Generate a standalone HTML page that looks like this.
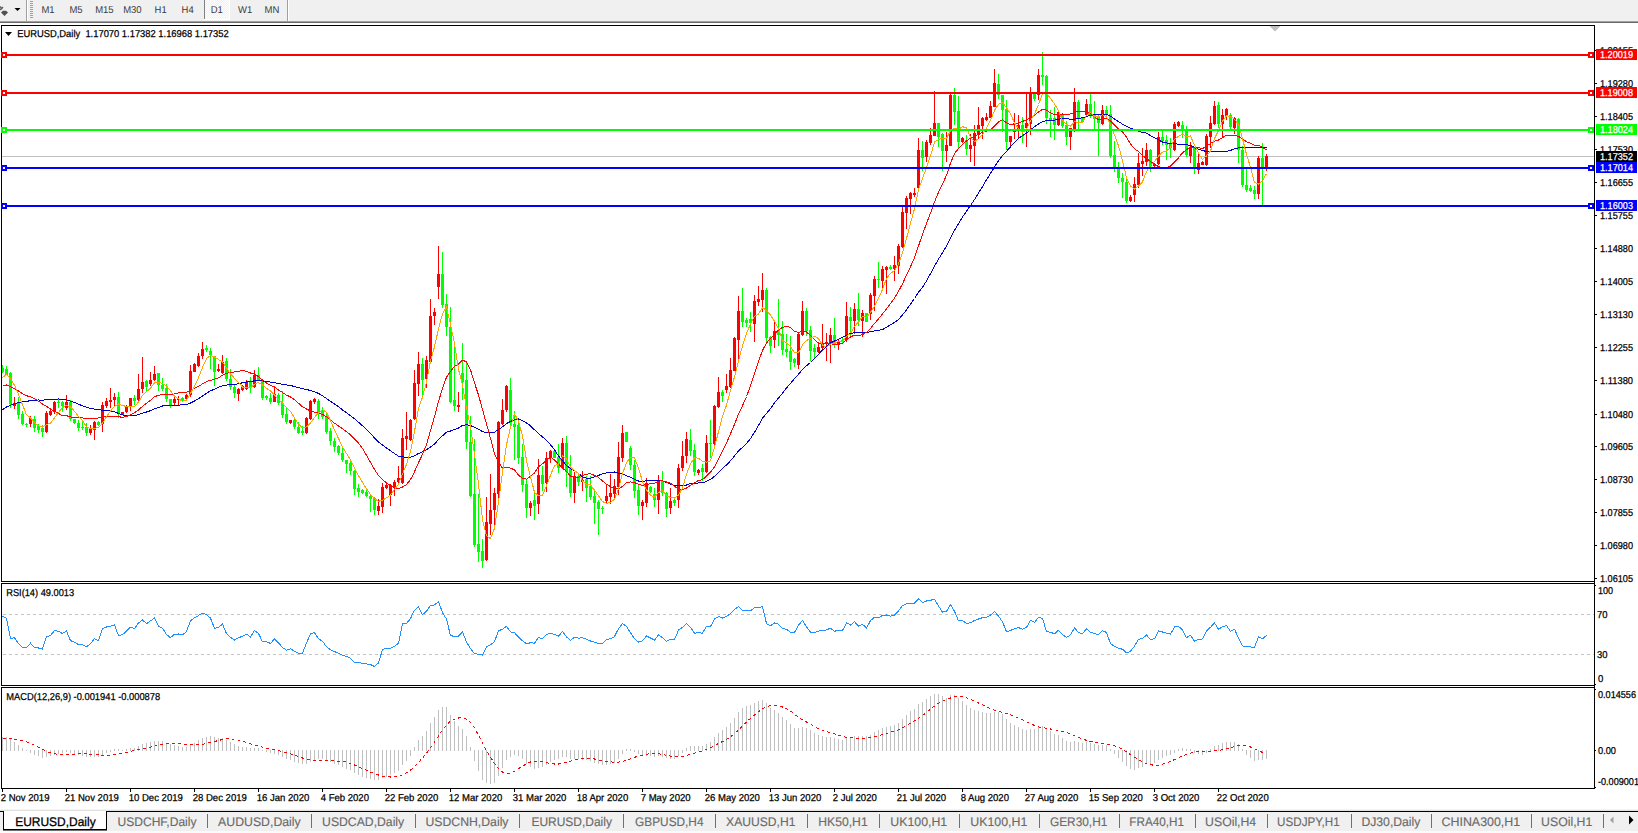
<!DOCTYPE html>
<html><head><meta charset="utf-8"><title>EURUSD,Daily</title>
<style>html,body{margin:0;padding:0;background:#fff;overflow:hidden}svg{display:block}text{white-space:pre}</style></head>
<body>
<svg width="1638" height="833" viewBox="0 0 1638 833" font-family='"Liberation Sans", sans-serif' text-rendering="geometricPrecision">
<rect x="0" y="0" width="1638" height="833" fill="#fff"/>
<g shape-rendering="crispEdges">
<rect x="0" y="0" width="1638" height="21" fill="#f0f0f0"/>
<rect x="0" y="21" width="1638" height="1" fill="#a0a0a0"/>
<rect x="0" y="22" width="1638" height="1" fill="#696969"/>
<rect x="26" y="0" width="1" height="21" fill="#a0a0a0"/>
<rect x="27" y="0" width="1" height="21" fill="#ffffff"/>
<rect x="30" y="1" width="3" height="1" fill="#a0a0a0"/>
<rect x="30" y="3" width="3" height="1" fill="#a0a0a0"/>
<rect x="30" y="5" width="3" height="1" fill="#a0a0a0"/>
<rect x="30" y="7" width="3" height="1" fill="#a0a0a0"/>
<rect x="30" y="9" width="3" height="1" fill="#a0a0a0"/>
<rect x="30" y="11" width="3" height="1" fill="#a0a0a0"/>
<rect x="30" y="13" width="3" height="1" fill="#a0a0a0"/>
<rect x="30" y="15" width="3" height="1" fill="#a0a0a0"/>
<rect x="30" y="17" width="3" height="1" fill="#a0a0a0"/>
<rect x="287" y="0" width="1" height="21" fill="#a0a0a0"/>
<rect x="288" y="0" width="1" height="21" fill="#ffffff"/>
<defs><pattern id="chk" width="2" height="2" patternUnits="userSpaceOnUse"><rect width="2" height="2" fill="#f0f0f0"/><rect width="1" height="1" fill="#fff"/><rect x="1" y="1" width="1" height="1" fill="#fff"/></pattern></defs>
<rect x="205" y="0" width="24" height="19" fill="url(#chk)"/>
<rect x="204" y="0" width="1" height="19" fill="#808080"/>
<rect x="229" y="0" width="1" height="20" fill="#ffffff"/>
<rect x="204" y="19" width="26" height="1" fill="#ffffff"/>
</g>
<path d="M0 6.5 L2.2 9.2 M0 10 L3 7" stroke="#606060" stroke-width="1.4" fill="none"/>
<path d="M3 10.8 L6 10.8 L8 12.5 L4.5 16 L1 12.5 Z" fill="#505050"/>
<path d="M14.5 8 L20.5 8 L17.5 11 Z" fill="#000"/>
<text x="48" y="13" font-size="10" fill="#3a3a3a" text-anchor="middle" textLength="13.2" lengthAdjust="spacingAndGlyphs" stroke="none">M1</text>
<text x="76" y="13" font-size="10" fill="#3a3a3a" text-anchor="middle" textLength="13.2" lengthAdjust="spacingAndGlyphs" stroke="none">M5</text>
<text x="104.4" y="13" font-size="10" fill="#3a3a3a" text-anchor="middle" textLength="18.5" lengthAdjust="spacingAndGlyphs" stroke="none">M15</text>
<text x="132.4" y="13" font-size="10" fill="#3a3a3a" text-anchor="middle" textLength="18.5" lengthAdjust="spacingAndGlyphs" stroke="none">M30</text>
<text x="160.6" y="13" font-size="10" fill="#3a3a3a" text-anchor="middle" textLength="12.1" lengthAdjust="spacingAndGlyphs" stroke="none">H1</text>
<text x="187.6" y="13" font-size="10" fill="#3a3a3a" text-anchor="middle" textLength="12.1" lengthAdjust="spacingAndGlyphs" stroke="none">H4</text>
<text x="216.7" y="13" font-size="10" fill="#3a3a3a" text-anchor="middle" textLength="12.1" lengthAdjust="spacingAndGlyphs" stroke="none">D1</text>
<text x="245.2" y="13" font-size="10" fill="#3a3a3a" text-anchor="middle" textLength="14.2" lengthAdjust="spacingAndGlyphs" stroke="none">W1</text>
<text x="272" y="13" font-size="10" fill="#3a3a3a" text-anchor="middle" textLength="14.8" lengthAdjust="spacingAndGlyphs" stroke="none">MN</text>
<g shape-rendering="crispEdges">
<rect x="1" y="25" width="1594" height="1" fill="#000"/>
<rect x="1" y="581" width="1594" height="1" fill="#000"/>
<rect x="1" y="583" width="1594" height="1" fill="#000"/>
<rect x="1" y="685" width="1594" height="1" fill="#000"/>
<rect x="1" y="687" width="1594" height="1" fill="#000"/>
<rect x="1" y="788" width="1594" height="1" fill="#000"/>
<rect x="1" y="25" width="1" height="557" fill="#000"/>
<rect x="1" y="583" width="1" height="103" fill="#000"/>
<rect x="1" y="687" width="1" height="102" fill="#000"/>
<rect x="1594" y="25" width="1" height="764" fill="#000"/>
</g>
<g shape-rendering="crispEdges">
<rect x="2" y="156" width="1592" height="1" fill="#c0c0c0"/>
<rect x="2" y="365" width="1" height="8" fill="#00ff00"/>
<rect x="1" y="368" width="3" height="4" fill="#00ff00"/>
<rect x="6" y="366" width="1" height="9" fill="#00ff00"/>
<rect x="5" y="369" width="3" height="6" fill="#00ff00"/>
<rect x="10" y="372" width="1" height="36" fill="#00ff00"/>
<rect x="9" y="373" width="3" height="31" fill="#00ff00"/>
<rect x="14" y="397" width="1" height="12" fill="#ff0000"/>
<rect x="13" y="403" width="3" height="3" fill="#ff0000"/>
<rect x="18" y="397" width="1" height="22" fill="#00ff00"/>
<rect x="17" y="403" width="3" height="12" fill="#00ff00"/>
<rect x="22" y="411" width="1" height="14" fill="#00ff00"/>
<rect x="21" y="414" width="3" height="10" fill="#00ff00"/>
<rect x="26" y="423" width="1" height="4" fill="#00ff00"/>
<rect x="25" y="424" width="3" height="1" fill="#00ff00"/>
<rect x="30" y="416" width="1" height="11" fill="#ff0000"/>
<rect x="29" y="418" width="3" height="6" fill="#ff0000"/>
<rect x="34" y="416" width="1" height="16" fill="#00ff00"/>
<rect x="33" y="419" width="3" height="9" fill="#00ff00"/>
<rect x="38" y="424" width="1" height="9" fill="#00ff00"/>
<rect x="37" y="426" width="3" height="4" fill="#00ff00"/>
<rect x="42" y="425" width="1" height="12" fill="#00ff00"/>
<rect x="41" y="428" width="3" height="4" fill="#00ff00"/>
<rect x="46" y="411" width="1" height="22" fill="#ff0000"/>
<rect x="45" y="413" width="3" height="19" fill="#ff0000"/>
<rect x="50" y="410" width="1" height="6" fill="#ff0000"/>
<rect x="49" y="411" width="3" height="4" fill="#ff0000"/>
<rect x="54" y="401" width="1" height="13" fill="#ff0000"/>
<rect x="53" y="402" width="3" height="10" fill="#ff0000"/>
<rect x="58" y="399" width="1" height="9" fill="#00ff00"/>
<rect x="57" y="402" width="3" height="1" fill="#00ff00"/>
<rect x="62" y="401" width="1" height="11" fill="#00ff00"/>
<rect x="61" y="402" width="3" height="4" fill="#00ff00"/>
<rect x="66" y="395" width="1" height="15" fill="#ff0000"/>
<rect x="65" y="402" width="3" height="6" fill="#ff0000"/>
<rect x="70" y="400" width="1" height="21" fill="#00ff00"/>
<rect x="69" y="402" width="3" height="17" fill="#00ff00"/>
<rect x="74" y="419" width="1" height="5" fill="#00ff00"/>
<rect x="73" y="419" width="3" height="4" fill="#00ff00"/>
<rect x="78" y="420" width="1" height="11" fill="#00ff00"/>
<rect x="77" y="423" width="3" height="5" fill="#00ff00"/>
<rect x="82" y="422" width="1" height="8" fill="#00ff00"/>
<rect x="81" y="427" width="3" height="1" fill="#00ff00"/>
<rect x="86" y="423" width="1" height="13" fill="#00ff00"/>
<rect x="85" y="427" width="3" height="6" fill="#00ff00"/>
<rect x="90" y="425" width="1" height="10" fill="#ff0000"/>
<rect x="89" y="428" width="3" height="5" fill="#ff0000"/>
<rect x="94" y="421" width="1" height="19" fill="#ff0000"/>
<rect x="93" y="422" width="3" height="8" fill="#ff0000"/>
<rect x="98" y="421" width="1" height="5" fill="#00ff00"/>
<rect x="97" y="422" width="3" height="3" fill="#00ff00"/>
<rect x="102" y="402" width="1" height="30" fill="#ff0000"/>
<rect x="101" y="405" width="3" height="19" fill="#ff0000"/>
<rect x="106" y="398" width="1" height="10" fill="#ff0000"/>
<rect x="105" y="401" width="3" height="5" fill="#ff0000"/>
<rect x="110" y="388" width="1" height="20" fill="#ff0000"/>
<rect x="109" y="400" width="3" height="2" fill="#ff0000"/>
<rect x="114" y="393" width="1" height="13" fill="#ff0000"/>
<rect x="113" y="397" width="3" height="3" fill="#ff0000"/>
<rect x="118" y="392" width="1" height="26" fill="#00ff00"/>
<rect x="117" y="397" width="3" height="17" fill="#00ff00"/>
<rect x="122" y="412" width="1" height="3" fill="#ff0000"/>
<rect x="121" y="412" width="3" height="3" fill="#ff0000"/>
<rect x="126" y="405" width="1" height="8" fill="#ff0000"/>
<rect x="125" y="406" width="3" height="6" fill="#ff0000"/>
<rect x="130" y="398" width="1" height="13" fill="#ff0000"/>
<rect x="129" y="398" width="3" height="8" fill="#ff0000"/>
<rect x="134" y="395" width="1" height="10" fill="#00ff00"/>
<rect x="133" y="398" width="3" height="3" fill="#00ff00"/>
<rect x="138" y="374" width="1" height="27" fill="#ff0000"/>
<rect x="137" y="389" width="3" height="11" fill="#ff0000"/>
<rect x="142" y="357" width="1" height="36" fill="#ff0000"/>
<rect x="141" y="382" width="3" height="7" fill="#ff0000"/>
<rect x="146" y="380" width="1" height="11" fill="#00ff00"/>
<rect x="145" y="381" width="3" height="6" fill="#00ff00"/>
<rect x="150" y="372" width="1" height="14" fill="#ff0000"/>
<rect x="149" y="380" width="3" height="4" fill="#ff0000"/>
<rect x="154" y="366" width="1" height="15" fill="#ff0000"/>
<rect x="153" y="374" width="3" height="6" fill="#ff0000"/>
<rect x="158" y="373" width="1" height="18" fill="#00ff00"/>
<rect x="157" y="373" width="3" height="12" fill="#00ff00"/>
<rect x="162" y="378" width="1" height="13" fill="#00ff00"/>
<rect x="161" y="385" width="3" height="4" fill="#00ff00"/>
<rect x="166" y="384" width="1" height="18" fill="#00ff00"/>
<rect x="165" y="388" width="3" height="11" fill="#00ff00"/>
<rect x="170" y="399" width="1" height="9" fill="#00ff00"/>
<rect x="169" y="399" width="3" height="7" fill="#00ff00"/>
<rect x="174" y="397" width="1" height="9" fill="#ff0000"/>
<rect x="173" y="399" width="3" height="4" fill="#ff0000"/>
<rect x="178" y="396" width="1" height="10" fill="#ff0000"/>
<rect x="177" y="399" width="3" height="1" fill="#ff0000"/>
<rect x="182" y="397" width="1" height="4" fill="#00ff00"/>
<rect x="181" y="398" width="3" height="2" fill="#00ff00"/>
<rect x="186" y="394" width="1" height="5" fill="#ff0000"/>
<rect x="185" y="395" width="3" height="4" fill="#ff0000"/>
<rect x="190" y="365" width="1" height="32" fill="#ff0000"/>
<rect x="189" y="371" width="3" height="24" fill="#ff0000"/>
<rect x="194" y="363" width="1" height="9" fill="#ff0000"/>
<rect x="193" y="364" width="3" height="8" fill="#ff0000"/>
<rect x="198" y="353" width="1" height="14" fill="#ff0000"/>
<rect x="197" y="356" width="3" height="10" fill="#ff0000"/>
<rect x="202" y="342" width="1" height="17" fill="#ff0000"/>
<rect x="201" y="349" width="3" height="7" fill="#ff0000"/>
<rect x="206" y="345" width="1" height="7" fill="#00ff00"/>
<rect x="205" y="348" width="3" height="2" fill="#00ff00"/>
<rect x="210" y="348" width="1" height="21" fill="#00ff00"/>
<rect x="209" y="351" width="3" height="4" fill="#00ff00"/>
<rect x="214" y="356" width="1" height="30" fill="#00ff00"/>
<rect x="213" y="356" width="3" height="16" fill="#00ff00"/>
<rect x="218" y="364" width="1" height="8" fill="#ff0000"/>
<rect x="217" y="369" width="3" height="2" fill="#ff0000"/>
<rect x="222" y="355" width="1" height="19" fill="#ff0000"/>
<rect x="221" y="362" width="3" height="11" fill="#ff0000"/>
<rect x="226" y="358" width="1" height="23" fill="#00ff00"/>
<rect x="225" y="361" width="3" height="18" fill="#00ff00"/>
<rect x="230" y="369" width="1" height="21" fill="#00ff00"/>
<rect x="229" y="379" width="3" height="8" fill="#00ff00"/>
<rect x="234" y="385" width="1" height="13" fill="#00ff00"/>
<rect x="233" y="387" width="3" height="6" fill="#00ff00"/>
<rect x="238" y="388" width="1" height="13" fill="#ff0000"/>
<rect x="237" y="389" width="3" height="5" fill="#ff0000"/>
<rect x="242" y="385" width="1" height="6" fill="#ff0000"/>
<rect x="241" y="386" width="3" height="4" fill="#ff0000"/>
<rect x="246" y="380" width="1" height="10" fill="#ff0000"/>
<rect x="245" y="382" width="3" height="7" fill="#ff0000"/>
<rect x="250" y="377" width="1" height="16" fill="#00ff00"/>
<rect x="249" y="382" width="3" height="5" fill="#00ff00"/>
<rect x="254" y="370" width="1" height="18" fill="#ff0000"/>
<rect x="253" y="375" width="3" height="12" fill="#ff0000"/>
<rect x="258" y="367" width="1" height="14" fill="#00ff00"/>
<rect x="257" y="375" width="3" height="5" fill="#00ff00"/>
<rect x="262" y="379" width="1" height="21" fill="#00ff00"/>
<rect x="261" y="380" width="3" height="18" fill="#00ff00"/>
<rect x="266" y="395" width="1" height="5" fill="#00ff00"/>
<rect x="265" y="396" width="3" height="2" fill="#00ff00"/>
<rect x="270" y="393" width="1" height="11" fill="#00ff00"/>
<rect x="269" y="398" width="3" height="4" fill="#00ff00"/>
<rect x="274" y="388" width="1" height="14" fill="#ff0000"/>
<rect x="273" y="394" width="3" height="8" fill="#ff0000"/>
<rect x="278" y="393" width="1" height="12" fill="#00ff00"/>
<rect x="277" y="395" width="3" height="8" fill="#00ff00"/>
<rect x="282" y="391" width="1" height="27" fill="#00ff00"/>
<rect x="281" y="403" width="3" height="12" fill="#00ff00"/>
<rect x="286" y="408" width="1" height="16" fill="#00ff00"/>
<rect x="285" y="414" width="3" height="8" fill="#00ff00"/>
<rect x="290" y="420" width="1" height="4" fill="#ff0000"/>
<rect x="289" y="420" width="3" height="3" fill="#ff0000"/>
<rect x="294" y="419" width="1" height="10" fill="#00ff00"/>
<rect x="293" y="420" width="3" height="7" fill="#00ff00"/>
<rect x="298" y="422" width="1" height="12" fill="#00ff00"/>
<rect x="297" y="427" width="3" height="6" fill="#00ff00"/>
<rect x="302" y="426" width="1" height="9" fill="#00ff00"/>
<rect x="301" y="431" width="3" height="2" fill="#00ff00"/>
<rect x="306" y="417" width="1" height="17" fill="#ff0000"/>
<rect x="305" y="418" width="3" height="15" fill="#ff0000"/>
<rect x="310" y="400" width="1" height="20" fill="#ff0000"/>
<rect x="309" y="401" width="3" height="18" fill="#ff0000"/>
<rect x="314" y="398" width="1" height="6" fill="#ff0000"/>
<rect x="313" y="399" width="3" height="3" fill="#ff0000"/>
<rect x="318" y="399" width="1" height="20" fill="#00ff00"/>
<rect x="317" y="401" width="3" height="11" fill="#00ff00"/>
<rect x="322" y="407" width="1" height="12" fill="#00ff00"/>
<rect x="321" y="410" width="3" height="7" fill="#00ff00"/>
<rect x="326" y="414" width="1" height="20" fill="#00ff00"/>
<rect x="325" y="416" width="3" height="16" fill="#00ff00"/>
<rect x="330" y="428" width="1" height="17" fill="#00ff00"/>
<rect x="329" y="431" width="3" height="10" fill="#00ff00"/>
<rect x="334" y="438" width="1" height="14" fill="#00ff00"/>
<rect x="333" y="441" width="3" height="6" fill="#00ff00"/>
<rect x="338" y="445" width="1" height="10" fill="#00ff00"/>
<rect x="337" y="446" width="3" height="7" fill="#00ff00"/>
<rect x="342" y="448" width="1" height="14" fill="#00ff00"/>
<rect x="341" y="453" width="3" height="7" fill="#00ff00"/>
<rect x="346" y="460" width="1" height="13" fill="#00ff00"/>
<rect x="345" y="460" width="3" height="4" fill="#00ff00"/>
<rect x="350" y="460" width="1" height="15" fill="#00ff00"/>
<rect x="349" y="463" width="3" height="8" fill="#00ff00"/>
<rect x="354" y="470" width="1" height="25" fill="#00ff00"/>
<rect x="353" y="471" width="3" height="18" fill="#00ff00"/>
<rect x="358" y="484" width="1" height="13" fill="#00ff00"/>
<rect x="357" y="488" width="3" height="4" fill="#00ff00"/>
<rect x="362" y="489" width="1" height="5" fill="#00ff00"/>
<rect x="361" y="490" width="3" height="3" fill="#00ff00"/>
<rect x="366" y="488" width="1" height="9" fill="#00ff00"/>
<rect x="365" y="492" width="3" height="4" fill="#00ff00"/>
<rect x="370" y="494" width="1" height="18" fill="#00ff00"/>
<rect x="369" y="496" width="3" height="3" fill="#00ff00"/>
<rect x="374" y="497" width="1" height="18" fill="#00ff00"/>
<rect x="373" y="498" width="3" height="12" fill="#00ff00"/>
<rect x="378" y="499" width="1" height="16" fill="#ff0000"/>
<rect x="377" y="506" width="3" height="5" fill="#ff0000"/>
<rect x="382" y="483" width="1" height="30" fill="#ff0000"/>
<rect x="381" y="487" width="3" height="20" fill="#ff0000"/>
<rect x="386" y="483" width="1" height="6" fill="#ff0000"/>
<rect x="385" y="485" width="3" height="3" fill="#ff0000"/>
<rect x="390" y="484" width="1" height="22" fill="#ff0000"/>
<rect x="389" y="485" width="3" height="10" fill="#ff0000"/>
<rect x="394" y="480" width="1" height="16" fill="#ff0000"/>
<rect x="393" y="482" width="3" height="6" fill="#ff0000"/>
<rect x="398" y="466" width="1" height="17" fill="#ff0000"/>
<rect x="397" y="478" width="3" height="4" fill="#ff0000"/>
<rect x="402" y="429" width="1" height="55" fill="#ff0000"/>
<rect x="401" y="438" width="3" height="45" fill="#ff0000"/>
<rect x="406" y="412" width="1" height="38" fill="#ff0000"/>
<rect x="405" y="436" width="3" height="3" fill="#ff0000"/>
<rect x="410" y="419" width="1" height="22" fill="#ff0000"/>
<rect x="409" y="420" width="3" height="20" fill="#ff0000"/>
<rect x="414" y="370" width="1" height="50" fill="#ff0000"/>
<rect x="413" y="383" width="3" height="36" fill="#ff0000"/>
<rect x="418" y="352" width="1" height="44" fill="#ff0000"/>
<rect x="417" y="364" width="3" height="20" fill="#ff0000"/>
<rect x="422" y="358" width="1" height="38" fill="#00ff00"/>
<rect x="421" y="364" width="3" height="16" fill="#00ff00"/>
<rect x="426" y="356" width="1" height="32" fill="#ff0000"/>
<rect x="425" y="360" width="3" height="19" fill="#ff0000"/>
<rect x="430" y="299" width="1" height="63" fill="#ff0000"/>
<rect x="429" y="316" width="3" height="46" fill="#ff0000"/>
<rect x="434" y="308" width="1" height="17" fill="#ff0000"/>
<rect x="433" y="312" width="3" height="4" fill="#ff0000"/>
<rect x="438" y="246" width="1" height="53" fill="#ff0000"/>
<rect x="437" y="274" width="3" height="13" fill="#ff0000"/>
<rect x="442" y="252" width="1" height="56" fill="#00ff00"/>
<rect x="441" y="274" width="3" height="31" fill="#00ff00"/>
<rect x="446" y="294" width="1" height="42" fill="#00ff00"/>
<rect x="445" y="304" width="3" height="23" fill="#00ff00"/>
<rect x="450" y="307" width="1" height="96" fill="#00ff00"/>
<rect x="449" y="327" width="3" height="75" fill="#00ff00"/>
<rect x="454" y="347" width="1" height="64" fill="#00ff00"/>
<rect x="453" y="400" width="3" height="6" fill="#00ff00"/>
<rect x="458" y="392" width="1" height="20" fill="#ff0000"/>
<rect x="457" y="405" width="3" height="2" fill="#ff0000"/>
<rect x="462" y="343" width="1" height="57" fill="#00ff00"/>
<rect x="461" y="373" width="3" height="9" fill="#00ff00"/>
<rect x="466" y="363" width="1" height="86" fill="#00ff00"/>
<rect x="465" y="380" width="3" height="62" fill="#00ff00"/>
<rect x="470" y="416" width="1" height="81" fill="#00ff00"/>
<rect x="469" y="442" width="3" height="54" fill="#00ff00"/>
<rect x="474" y="439" width="1" height="108" fill="#00ff00"/>
<rect x="473" y="494" width="3" height="51" fill="#00ff00"/>
<rect x="478" y="494" width="1" height="68" fill="#00ff00"/>
<rect x="477" y="544" width="3" height="8" fill="#00ff00"/>
<rect x="482" y="539" width="1" height="29" fill="#00ff00"/>
<rect x="481" y="551" width="3" height="10" fill="#00ff00"/>
<rect x="486" y="497" width="1" height="64" fill="#ff0000"/>
<rect x="485" y="522" width="3" height="38" fill="#ff0000"/>
<rect x="490" y="474" width="1" height="61" fill="#ff0000"/>
<rect x="489" y="510" width="3" height="14" fill="#ff0000"/>
<rect x="494" y="488" width="1" height="37" fill="#ff0000"/>
<rect x="493" y="493" width="3" height="17" fill="#ff0000"/>
<rect x="498" y="421" width="1" height="77" fill="#ff0000"/>
<rect x="497" y="422" width="3" height="72" fill="#ff0000"/>
<rect x="502" y="399" width="1" height="26" fill="#ff0000"/>
<rect x="501" y="410" width="3" height="14" fill="#ff0000"/>
<rect x="506" y="385" width="1" height="27" fill="#ff0000"/>
<rect x="505" y="386" width="3" height="24" fill="#ff0000"/>
<rect x="510" y="378" width="1" height="48" fill="#00ff00"/>
<rect x="509" y="390" width="3" height="32" fill="#00ff00"/>
<rect x="514" y="411" width="1" height="49" fill="#00ff00"/>
<rect x="513" y="424" width="3" height="3" fill="#00ff00"/>
<rect x="518" y="422" width="1" height="42" fill="#00ff00"/>
<rect x="517" y="425" width="3" height="33" fill="#00ff00"/>
<rect x="522" y="444" width="1" height="48" fill="#00ff00"/>
<rect x="521" y="457" width="3" height="28" fill="#00ff00"/>
<rect x="526" y="480" width="1" height="38" fill="#00ff00"/>
<rect x="525" y="484" width="3" height="24" fill="#00ff00"/>
<rect x="530" y="501" width="1" height="15" fill="#ff0000"/>
<rect x="529" y="503" width="3" height="5" fill="#ff0000"/>
<rect x="534" y="493" width="1" height="27" fill="#00ff00"/>
<rect x="533" y="500" width="3" height="6" fill="#00ff00"/>
<rect x="538" y="459" width="1" height="55" fill="#ff0000"/>
<rect x="537" y="475" width="3" height="29" fill="#ff0000"/>
<rect x="542" y="466" width="1" height="25" fill="#00ff00"/>
<rect x="541" y="475" width="3" height="9" fill="#00ff00"/>
<rect x="546" y="452" width="1" height="40" fill="#ff0000"/>
<rect x="545" y="458" width="3" height="25" fill="#ff0000"/>
<rect x="550" y="450" width="1" height="13" fill="#ff0000"/>
<rect x="549" y="451" width="3" height="7" fill="#ff0000"/>
<rect x="554" y="450" width="1" height="8" fill="#00ff00"/>
<rect x="553" y="451" width="3" height="7" fill="#00ff00"/>
<rect x="558" y="444" width="1" height="29" fill="#00ff00"/>
<rect x="557" y="457" width="3" height="11" fill="#00ff00"/>
<rect x="562" y="438" width="1" height="31" fill="#ff0000"/>
<rect x="561" y="443" width="3" height="25" fill="#ff0000"/>
<rect x="566" y="436" width="1" height="51" fill="#00ff00"/>
<rect x="565" y="443" width="3" height="29" fill="#00ff00"/>
<rect x="570" y="455" width="1" height="42" fill="#00ff00"/>
<rect x="569" y="468" width="3" height="25" fill="#00ff00"/>
<rect x="574" y="472" width="1" height="31" fill="#ff0000"/>
<rect x="573" y="476" width="3" height="17" fill="#ff0000"/>
<rect x="578" y="475" width="1" height="11" fill="#00ff00"/>
<rect x="577" y="476" width="3" height="6" fill="#00ff00"/>
<rect x="582" y="471" width="1" height="20" fill="#ff0000"/>
<rect x="581" y="480" width="3" height="2" fill="#ff0000"/>
<rect x="586" y="476" width="1" height="26" fill="#00ff00"/>
<rect x="585" y="479" width="3" height="9" fill="#00ff00"/>
<rect x="590" y="476" width="1" height="24" fill="#00ff00"/>
<rect x="589" y="486" width="3" height="11" fill="#00ff00"/>
<rect x="594" y="491" width="1" height="33" fill="#00ff00"/>
<rect x="593" y="496" width="3" height="7" fill="#00ff00"/>
<rect x="598" y="500" width="1" height="35" fill="#00ff00"/>
<rect x="597" y="502" width="3" height="7" fill="#00ff00"/>
<rect x="602" y="506" width="1" height="8" fill="#00ff00"/>
<rect x="601" y="508" width="3" height="1" fill="#00ff00"/>
<rect x="606" y="484" width="1" height="20" fill="#ff0000"/>
<rect x="605" y="496" width="3" height="5" fill="#ff0000"/>
<rect x="610" y="474" width="1" height="30" fill="#ff0000"/>
<rect x="609" y="493" width="3" height="4" fill="#ff0000"/>
<rect x="614" y="479" width="1" height="21" fill="#ff0000"/>
<rect x="613" y="486" width="3" height="8" fill="#ff0000"/>
<rect x="618" y="442" width="1" height="53" fill="#ff0000"/>
<rect x="617" y="457" width="3" height="30" fill="#ff0000"/>
<rect x="622" y="425" width="1" height="37" fill="#ff0000"/>
<rect x="621" y="433" width="3" height="25" fill="#ff0000"/>
<rect x="626" y="432" width="1" height="10" fill="#00ff00"/>
<rect x="625" y="432" width="3" height="10" fill="#00ff00"/>
<rect x="630" y="446" width="1" height="24" fill="#00ff00"/>
<rect x="629" y="448" width="3" height="17" fill="#00ff00"/>
<rect x="634" y="460" width="1" height="38" fill="#00ff00"/>
<rect x="633" y="465" width="3" height="26" fill="#00ff00"/>
<rect x="638" y="485" width="1" height="30" fill="#00ff00"/>
<rect x="637" y="490" width="3" height="16" fill="#00ff00"/>
<rect x="642" y="500" width="1" height="20" fill="#ff0000"/>
<rect x="641" y="502" width="3" height="4" fill="#ff0000"/>
<rect x="646" y="478" width="1" height="29" fill="#ff0000"/>
<rect x="645" y="483" width="3" height="20" fill="#ff0000"/>
<rect x="650" y="486" width="1" height="7" fill="#00ff00"/>
<rect x="649" y="487" width="3" height="5" fill="#00ff00"/>
<rect x="654" y="488" width="1" height="19" fill="#00ff00"/>
<rect x="653" y="494" width="3" height="6" fill="#00ff00"/>
<rect x="658" y="475" width="1" height="39" fill="#ff0000"/>
<rect x="657" y="482" width="3" height="18" fill="#ff0000"/>
<rect x="662" y="471" width="1" height="25" fill="#00ff00"/>
<rect x="661" y="481" width="3" height="12" fill="#00ff00"/>
<rect x="666" y="492" width="1" height="25" fill="#00ff00"/>
<rect x="665" y="493" width="3" height="16" fill="#00ff00"/>
<rect x="670" y="488" width="1" height="26" fill="#ff0000"/>
<rect x="669" y="501" width="3" height="7" fill="#ff0000"/>
<rect x="674" y="499" width="1" height="7" fill="#00ff00"/>
<rect x="673" y="500" width="3" height="3" fill="#00ff00"/>
<rect x="678" y="464" width="1" height="44" fill="#ff0000"/>
<rect x="677" y="468" width="3" height="32" fill="#ff0000"/>
<rect x="682" y="441" width="1" height="30" fill="#ff0000"/>
<rect x="681" y="456" width="3" height="12" fill="#ff0000"/>
<rect x="686" y="432" width="1" height="31" fill="#ff0000"/>
<rect x="685" y="439" width="3" height="17" fill="#ff0000"/>
<rect x="690" y="429" width="1" height="27" fill="#00ff00"/>
<rect x="689" y="440" width="3" height="11" fill="#00ff00"/>
<rect x="694" y="444" width="1" height="32" fill="#00ff00"/>
<rect x="693" y="450" width="3" height="22" fill="#00ff00"/>
<rect x="698" y="469" width="1" height="6" fill="#ff0000"/>
<rect x="697" y="470" width="3" height="3" fill="#ff0000"/>
<rect x="702" y="464" width="1" height="17" fill="#00ff00"/>
<rect x="701" y="468" width="3" height="4" fill="#00ff00"/>
<rect x="706" y="435" width="1" height="38" fill="#ff0000"/>
<rect x="705" y="443" width="3" height="29" fill="#ff0000"/>
<rect x="710" y="420" width="1" height="38" fill="#00ff00"/>
<rect x="709" y="443" width="3" height="1" fill="#00ff00"/>
<rect x="714" y="405" width="1" height="40" fill="#ff0000"/>
<rect x="713" y="406" width="3" height="38" fill="#ff0000"/>
<rect x="718" y="377" width="1" height="31" fill="#ff0000"/>
<rect x="717" y="392" width="3" height="15" fill="#ff0000"/>
<rect x="722" y="390" width="1" height="12" fill="#00ff00"/>
<rect x="721" y="392" width="3" height="4" fill="#00ff00"/>
<rect x="726" y="374" width="1" height="19" fill="#ff0000"/>
<rect x="725" y="386" width="3" height="4" fill="#ff0000"/>
<rect x="730" y="358" width="1" height="30" fill="#ff0000"/>
<rect x="729" y="370" width="3" height="17" fill="#ff0000"/>
<rect x="734" y="337" width="1" height="34" fill="#ff0000"/>
<rect x="733" y="338" width="3" height="33" fill="#ff0000"/>
<rect x="738" y="296" width="1" height="63" fill="#ff0000"/>
<rect x="737" y="311" width="3" height="29" fill="#ff0000"/>
<rect x="742" y="288" width="1" height="39" fill="#00ff00"/>
<rect x="741" y="311" width="3" height="11" fill="#00ff00"/>
<rect x="746" y="318" width="1" height="9" fill="#00ff00"/>
<rect x="745" y="320" width="3" height="3" fill="#00ff00"/>
<rect x="750" y="312" width="1" height="20" fill="#00ff00"/>
<rect x="749" y="319" width="3" height="4" fill="#00ff00"/>
<rect x="754" y="295" width="1" height="47" fill="#ff0000"/>
<rect x="753" y="301" width="3" height="23" fill="#ff0000"/>
<rect x="758" y="286" width="1" height="20" fill="#ff0000"/>
<rect x="757" y="299" width="3" height="3" fill="#ff0000"/>
<rect x="762" y="273" width="1" height="39" fill="#ff0000"/>
<rect x="761" y="290" width="3" height="10" fill="#ff0000"/>
<rect x="766" y="288" width="1" height="55" fill="#00ff00"/>
<rect x="765" y="290" width="3" height="48" fill="#00ff00"/>
<rect x="770" y="336" width="1" height="17" fill="#00ff00"/>
<rect x="769" y="337" width="3" height="9" fill="#00ff00"/>
<rect x="774" y="322" width="1" height="26" fill="#ff0000"/>
<rect x="773" y="331" width="3" height="9" fill="#ff0000"/>
<rect x="778" y="299" width="1" height="47" fill="#00ff00"/>
<rect x="777" y="331" width="3" height="4" fill="#00ff00"/>
<rect x="782" y="321" width="1" height="34" fill="#00ff00"/>
<rect x="781" y="334" width="3" height="16" fill="#00ff00"/>
<rect x="786" y="334" width="1" height="23" fill="#00ff00"/>
<rect x="785" y="349" width="3" height="3" fill="#00ff00"/>
<rect x="790" y="336" width="1" height="34" fill="#00ff00"/>
<rect x="789" y="351" width="3" height="11" fill="#00ff00"/>
<rect x="794" y="358" width="1" height="9" fill="#00ff00"/>
<rect x="793" y="359" width="3" height="4" fill="#00ff00"/>
<rect x="798" y="333" width="1" height="36" fill="#ff0000"/>
<rect x="797" y="334" width="3" height="31" fill="#ff0000"/>
<rect x="802" y="301" width="1" height="35" fill="#ff0000"/>
<rect x="801" y="311" width="3" height="24" fill="#ff0000"/>
<rect x="806" y="308" width="1" height="28" fill="#00ff00"/>
<rect x="805" y="311" width="3" height="20" fill="#00ff00"/>
<rect x="810" y="326" width="1" height="35" fill="#00ff00"/>
<rect x="809" y="330" width="3" height="21" fill="#00ff00"/>
<rect x="814" y="344" width="1" height="14" fill="#00ff00"/>
<rect x="813" y="348" width="3" height="4" fill="#00ff00"/>
<rect x="818" y="342" width="1" height="11" fill="#ff0000"/>
<rect x="817" y="347" width="3" height="5" fill="#ff0000"/>
<rect x="822" y="324" width="1" height="25" fill="#ff0000"/>
<rect x="821" y="343" width="3" height="5" fill="#ff0000"/>
<rect x="826" y="333" width="1" height="28" fill="#ff0000"/>
<rect x="825" y="342" width="3" height="2" fill="#ff0000"/>
<rect x="830" y="328" width="1" height="35" fill="#ff0000"/>
<rect x="829" y="335" width="3" height="9" fill="#ff0000"/>
<rect x="834" y="318" width="1" height="30" fill="#00ff00"/>
<rect x="833" y="335" width="3" height="9" fill="#00ff00"/>
<rect x="838" y="340" width="1" height="10" fill="#ff0000"/>
<rect x="837" y="342" width="3" height="3" fill="#ff0000"/>
<rect x="842" y="338" width="1" height="6" fill="#00ff00"/>
<rect x="841" y="340" width="3" height="2" fill="#00ff00"/>
<rect x="846" y="302" width="1" height="40" fill="#ff0000"/>
<rect x="845" y="316" width="3" height="24" fill="#ff0000"/>
<rect x="850" y="307" width="1" height="29" fill="#00ff00"/>
<rect x="849" y="317" width="3" height="4" fill="#00ff00"/>
<rect x="854" y="303" width="1" height="31" fill="#ff0000"/>
<rect x="853" y="309" width="3" height="12" fill="#ff0000"/>
<rect x="858" y="293" width="1" height="33" fill="#00ff00"/>
<rect x="857" y="309" width="3" height="11" fill="#00ff00"/>
<rect x="862" y="310" width="1" height="27" fill="#ff0000"/>
<rect x="861" y="313" width="3" height="8" fill="#ff0000"/>
<rect x="866" y="313" width="1" height="9" fill="#00ff00"/>
<rect x="865" y="313" width="3" height="9" fill="#00ff00"/>
<rect x="870" y="293" width="1" height="27" fill="#ff0000"/>
<rect x="869" y="295" width="3" height="19" fill="#ff0000"/>
<rect x="874" y="276" width="1" height="35" fill="#ff0000"/>
<rect x="873" y="279" width="3" height="17" fill="#ff0000"/>
<rect x="878" y="262" width="1" height="26" fill="#00ff00"/>
<rect x="877" y="279" width="3" height="1" fill="#00ff00"/>
<rect x="882" y="266" width="1" height="24" fill="#ff0000"/>
<rect x="881" y="269" width="3" height="12" fill="#ff0000"/>
<rect x="886" y="266" width="1" height="28" fill="#ff0000"/>
<rect x="885" y="267" width="3" height="3" fill="#ff0000"/>
<rect x="890" y="265" width="1" height="5" fill="#00ff00"/>
<rect x="889" y="267" width="3" height="2" fill="#00ff00"/>
<rect x="894" y="256" width="1" height="25" fill="#ff0000"/>
<rect x="893" y="265" width="3" height="4" fill="#ff0000"/>
<rect x="898" y="244" width="1" height="30" fill="#ff0000"/>
<rect x="897" y="246" width="3" height="20" fill="#ff0000"/>
<rect x="902" y="207" width="1" height="41" fill="#ff0000"/>
<rect x="901" y="212" width="3" height="35" fill="#ff0000"/>
<rect x="906" y="196" width="1" height="33" fill="#ff0000"/>
<rect x="905" y="198" width="3" height="15" fill="#ff0000"/>
<rect x="910" y="192" width="1" height="22" fill="#ff0000"/>
<rect x="909" y="193" width="3" height="6" fill="#ff0000"/>
<rect x="914" y="188" width="1" height="9" fill="#ff0000"/>
<rect x="913" y="193" width="3" height="2" fill="#ff0000"/>
<rect x="918" y="138" width="1" height="50" fill="#ff0000"/>
<rect x="917" y="150" width="3" height="38" fill="#ff0000"/>
<rect x="922" y="141" width="1" height="30" fill="#00ff00"/>
<rect x="921" y="150" width="3" height="8" fill="#00ff00"/>
<rect x="926" y="140" width="1" height="22" fill="#ff0000"/>
<rect x="925" y="142" width="3" height="15" fill="#ff0000"/>
<rect x="930" y="128" width="1" height="17" fill="#ff0000"/>
<rect x="929" y="135" width="3" height="8" fill="#ff0000"/>
<rect x="934" y="91" width="1" height="45" fill="#ff0000"/>
<rect x="933" y="123" width="3" height="13" fill="#ff0000"/>
<rect x="938" y="123" width="1" height="24" fill="#00ff00"/>
<rect x="937" y="123" width="3" height="14" fill="#00ff00"/>
<rect x="942" y="133" width="1" height="38" fill="#00ff00"/>
<rect x="941" y="134" width="3" height="17" fill="#00ff00"/>
<rect x="946" y="132" width="1" height="30" fill="#ff0000"/>
<rect x="945" y="145" width="3" height="6" fill="#ff0000"/>
<rect x="950" y="94" width="1" height="52" fill="#ff0000"/>
<rect x="949" y="95" width="3" height="51" fill="#ff0000"/>
<rect x="954" y="88" width="1" height="37" fill="#00ff00"/>
<rect x="953" y="95" width="3" height="17" fill="#00ff00"/>
<rect x="958" y="96" width="1" height="52" fill="#00ff00"/>
<rect x="957" y="111" width="3" height="31" fill="#00ff00"/>
<rect x="962" y="137" width="1" height="6" fill="#ff0000"/>
<rect x="961" y="138" width="3" height="4" fill="#ff0000"/>
<rect x="966" y="135" width="1" height="20" fill="#00ff00"/>
<rect x="965" y="140" width="3" height="9" fill="#00ff00"/>
<rect x="970" y="134" width="1" height="28" fill="#ff0000"/>
<rect x="969" y="145" width="3" height="4" fill="#ff0000"/>
<rect x="974" y="125" width="1" height="41" fill="#ff0000"/>
<rect x="973" y="133" width="3" height="13" fill="#ff0000"/>
<rect x="978" y="107" width="1" height="32" fill="#ff0000"/>
<rect x="977" y="125" width="3" height="10" fill="#ff0000"/>
<rect x="982" y="117" width="1" height="22" fill="#ff0000"/>
<rect x="981" y="118" width="3" height="8" fill="#ff0000"/>
<rect x="986" y="113" width="1" height="8" fill="#ff0000"/>
<rect x="985" y="117" width="3" height="3" fill="#ff0000"/>
<rect x="990" y="101" width="1" height="17" fill="#ff0000"/>
<rect x="989" y="106" width="3" height="12" fill="#ff0000"/>
<rect x="994" y="69" width="1" height="38" fill="#ff0000"/>
<rect x="993" y="83" width="3" height="24" fill="#ff0000"/>
<rect x="998" y="74" width="1" height="25" fill="#00ff00"/>
<rect x="997" y="84" width="3" height="11" fill="#00ff00"/>
<rect x="1002" y="95" width="1" height="37" fill="#00ff00"/>
<rect x="1001" y="95" width="3" height="15" fill="#00ff00"/>
<rect x="1006" y="100" width="1" height="50" fill="#00ff00"/>
<rect x="1005" y="109" width="3" height="33" fill="#00ff00"/>
<rect x="1010" y="136" width="1" height="10" fill="#ff0000"/>
<rect x="1009" y="136" width="3" height="6" fill="#ff0000"/>
<rect x="1014" y="113" width="1" height="26" fill="#ff0000"/>
<rect x="1013" y="130" width="3" height="2" fill="#ff0000"/>
<rect x="1018" y="115" width="1" height="24" fill="#ff0000"/>
<rect x="1017" y="125" width="3" height="5" fill="#ff0000"/>
<rect x="1022" y="117" width="1" height="26" fill="#00ff00"/>
<rect x="1021" y="125" width="3" height="4" fill="#00ff00"/>
<rect x="1026" y="93" width="1" height="54" fill="#ff0000"/>
<rect x="1025" y="123" width="3" height="5" fill="#ff0000"/>
<rect x="1030" y="87" width="1" height="48" fill="#ff0000"/>
<rect x="1029" y="93" width="3" height="31" fill="#ff0000"/>
<rect x="1034" y="93" width="1" height="8" fill="#00ff00"/>
<rect x="1033" y="94" width="3" height="5" fill="#00ff00"/>
<rect x="1038" y="69" width="1" height="31" fill="#ff0000"/>
<rect x="1037" y="75" width="3" height="20" fill="#ff0000"/>
<rect x="1042" y="52" width="1" height="33" fill="#00ff00"/>
<rect x="1041" y="75" width="3" height="2" fill="#00ff00"/>
<rect x="1046" y="75" width="1" height="49" fill="#00ff00"/>
<rect x="1045" y="76" width="3" height="42" fill="#00ff00"/>
<rect x="1050" y="110" width="1" height="27" fill="#00ff00"/>
<rect x="1049" y="118" width="3" height="2" fill="#00ff00"/>
<rect x="1054" y="107" width="1" height="33" fill="#00ff00"/>
<rect x="1053" y="118" width="3" height="7" fill="#00ff00"/>
<rect x="1058" y="111" width="1" height="15" fill="#ff0000"/>
<rect x="1057" y="112" width="3" height="13" fill="#ff0000"/>
<rect x="1062" y="114" width="1" height="14" fill="#00ff00"/>
<rect x="1061" y="115" width="3" height="11" fill="#00ff00"/>
<rect x="1066" y="121" width="1" height="24" fill="#00ff00"/>
<rect x="1065" y="125" width="3" height="12" fill="#00ff00"/>
<rect x="1070" y="128" width="1" height="22" fill="#ff0000"/>
<rect x="1069" y="128" width="3" height="9" fill="#ff0000"/>
<rect x="1074" y="88" width="1" height="44" fill="#ff0000"/>
<rect x="1073" y="102" width="3" height="27" fill="#ff0000"/>
<rect x="1078" y="100" width="1" height="29" fill="#00ff00"/>
<rect x="1077" y="102" width="3" height="16" fill="#00ff00"/>
<rect x="1082" y="117" width="1" height="6" fill="#00ff00"/>
<rect x="1081" y="118" width="3" height="4" fill="#00ff00"/>
<rect x="1086" y="99" width="1" height="18" fill="#ff0000"/>
<rect x="1085" y="104" width="3" height="11" fill="#ff0000"/>
<rect x="1090" y="94" width="1" height="24" fill="#00ff00"/>
<rect x="1089" y="104" width="3" height="11" fill="#00ff00"/>
<rect x="1094" y="101" width="1" height="29" fill="#00ff00"/>
<rect x="1093" y="114" width="3" height="5" fill="#00ff00"/>
<rect x="1098" y="115" width="1" height="41" fill="#00ff00"/>
<rect x="1097" y="116" width="3" height="7" fill="#00ff00"/>
<rect x="1102" y="105" width="1" height="20" fill="#ff0000"/>
<rect x="1101" y="110" width="3" height="14" fill="#ff0000"/>
<rect x="1106" y="106" width="1" height="12" fill="#00ff00"/>
<rect x="1105" y="110" width="3" height="5" fill="#00ff00"/>
<rect x="1110" y="105" width="1" height="53" fill="#00ff00"/>
<rect x="1109" y="114" width="3" height="42" fill="#00ff00"/>
<rect x="1114" y="141" width="1" height="31" fill="#00ff00"/>
<rect x="1113" y="155" width="3" height="13" fill="#00ff00"/>
<rect x="1118" y="162" width="1" height="21" fill="#00ff00"/>
<rect x="1117" y="168" width="3" height="10" fill="#00ff00"/>
<rect x="1122" y="173" width="1" height="25" fill="#00ff00"/>
<rect x="1121" y="178" width="3" height="4" fill="#00ff00"/>
<rect x="1126" y="178" width="1" height="25" fill="#00ff00"/>
<rect x="1125" y="182" width="3" height="19" fill="#00ff00"/>
<rect x="1130" y="195" width="1" height="7" fill="#ff0000"/>
<rect x="1129" y="197" width="3" height="4" fill="#ff0000"/>
<rect x="1134" y="177" width="1" height="25" fill="#ff0000"/>
<rect x="1133" y="184" width="3" height="11" fill="#ff0000"/>
<rect x="1138" y="153" width="1" height="35" fill="#ff0000"/>
<rect x="1137" y="163" width="3" height="22" fill="#ff0000"/>
<rect x="1142" y="148" width="1" height="28" fill="#ff0000"/>
<rect x="1141" y="161" width="3" height="3" fill="#ff0000"/>
<rect x="1146" y="143" width="1" height="23" fill="#ff0000"/>
<rect x="1145" y="150" width="3" height="12" fill="#ff0000"/>
<rect x="1150" y="149" width="1" height="23" fill="#00ff00"/>
<rect x="1149" y="150" width="3" height="16" fill="#00ff00"/>
<rect x="1154" y="163" width="1" height="4" fill="#ff0000"/>
<rect x="1153" y="164" width="3" height="2" fill="#ff0000"/>
<rect x="1158" y="132" width="1" height="33" fill="#ff0000"/>
<rect x="1157" y="137" width="3" height="27" fill="#ff0000"/>
<rect x="1162" y="131" width="1" height="14" fill="#00ff00"/>
<rect x="1161" y="137" width="3" height="4" fill="#00ff00"/>
<rect x="1166" y="135" width="1" height="25" fill="#00ff00"/>
<rect x="1165" y="140" width="3" height="5" fill="#00ff00"/>
<rect x="1170" y="138" width="1" height="20" fill="#00ff00"/>
<rect x="1169" y="144" width="3" height="4" fill="#00ff00"/>
<rect x="1174" y="122" width="1" height="29" fill="#ff0000"/>
<rect x="1173" y="124" width="3" height="26" fill="#ff0000"/>
<rect x="1178" y="121" width="1" height="6" fill="#ff0000"/>
<rect x="1177" y="122" width="3" height="4" fill="#ff0000"/>
<rect x="1182" y="121" width="1" height="17" fill="#00ff00"/>
<rect x="1181" y="125" width="3" height="5" fill="#00ff00"/>
<rect x="1186" y="126" width="1" height="31" fill="#00ff00"/>
<rect x="1185" y="130" width="3" height="25" fill="#00ff00"/>
<rect x="1190" y="142" width="1" height="21" fill="#ff0000"/>
<rect x="1189" y="147" width="3" height="9" fill="#ff0000"/>
<rect x="1194" y="147" width="1" height="27" fill="#00ff00"/>
<rect x="1193" y="148" width="3" height="21" fill="#00ff00"/>
<rect x="1198" y="154" width="1" height="20" fill="#ff0000"/>
<rect x="1197" y="163" width="3" height="7" fill="#ff0000"/>
<rect x="1202" y="161" width="1" height="4" fill="#ff0000"/>
<rect x="1201" y="162" width="3" height="3" fill="#ff0000"/>
<rect x="1206" y="134" width="1" height="32" fill="#ff0000"/>
<rect x="1205" y="136" width="3" height="29" fill="#ff0000"/>
<rect x="1210" y="116" width="1" height="32" fill="#ff0000"/>
<rect x="1209" y="123" width="3" height="14" fill="#ff0000"/>
<rect x="1214" y="101" width="1" height="24" fill="#ff0000"/>
<rect x="1213" y="106" width="3" height="18" fill="#ff0000"/>
<rect x="1218" y="102" width="1" height="26" fill="#00ff00"/>
<rect x="1217" y="105" width="3" height="19" fill="#00ff00"/>
<rect x="1222" y="109" width="1" height="28" fill="#ff0000"/>
<rect x="1221" y="115" width="3" height="9" fill="#ff0000"/>
<rect x="1226" y="108" width="1" height="12" fill="#ff0000"/>
<rect x="1225" y="109" width="3" height="7" fill="#ff0000"/>
<rect x="1230" y="113" width="1" height="16" fill="#00ff00"/>
<rect x="1229" y="115" width="3" height="12" fill="#00ff00"/>
<rect x="1234" y="117" width="1" height="17" fill="#ff0000"/>
<rect x="1233" y="118" width="3" height="10" fill="#ff0000"/>
<rect x="1238" y="118" width="1" height="45" fill="#00ff00"/>
<rect x="1237" y="119" width="3" height="31" fill="#00ff00"/>
<rect x="1242" y="146" width="1" height="41" fill="#00ff00"/>
<rect x="1241" y="150" width="3" height="35" fill="#00ff00"/>
<rect x="1246" y="168" width="1" height="24" fill="#00ff00"/>
<rect x="1245" y="185" width="3" height="5" fill="#00ff00"/>
<rect x="1250" y="185" width="1" height="7" fill="#00ff00"/>
<rect x="1249" y="188" width="3" height="3" fill="#00ff00"/>
<rect x="1254" y="186" width="1" height="13" fill="#00ff00"/>
<rect x="1253" y="190" width="3" height="4" fill="#00ff00"/>
<rect x="1258" y="156" width="1" height="43" fill="#ff0000"/>
<rect x="1257" y="158" width="3" height="36" fill="#ff0000"/>
<rect x="1262" y="143" width="1" height="62" fill="#00ff00"/>
<rect x="1261" y="158" width="3" height="10" fill="#00ff00"/>
<rect x="1266" y="154" width="1" height="17" fill="#ff0000"/>
<rect x="1265" y="156" width="3" height="11" fill="#ff0000"/>
</g>
<polyline points="2.5,409.6 6.5,407.0 10.5,405.3 14.5,403.7 18.5,402.7 22.5,402.0 26.5,401.4 30.5,400.6 34.5,400.2 38.5,400.0 42.5,400.1 46.5,399.9 50.5,399.5 54.5,399.1 58.5,399.0 62.5,399.3 66.5,399.7 70.5,401.1 74.5,402.5 78.5,404.2 82.5,405.8 86.5,407.3 90.5,408.4 94.5,409.1 98.5,409.8 102.5,410.1 106.5,410.5 110.5,411.1 114.5,411.9 118.5,413.4 122.5,414.8 126.5,415.8 130.5,415.6 134.5,415.6 138.5,414.7 142.5,413.2 146.5,412.0 150.5,410.7 154.5,408.9 158.5,407.4 162.5,406.0 166.5,405.5 170.5,405.3 174.5,405.2 178.5,405.1 182.5,404.9 186.5,404.6 190.5,403.0 194.5,401.1 198.5,398.7 202.5,396.0 206.5,393.3 210.5,390.8 214.5,389.2 218.5,387.3 222.5,385.9 226.5,385.1 230.5,384.7 234.5,384.5 238.5,383.7 242.5,382.8 246.5,382.0 250.5,381.6 254.5,380.8 258.5,380.5 262.5,381.0 266.5,381.4 270.5,382.1 274.5,382.8 278.5,383.4 282.5,384.3 286.5,385.0 290.5,385.5 294.5,386.5 298.5,387.6 302.5,388.7 306.5,389.5 310.5,390.5 314.5,391.6 318.5,393.5 322.5,395.8 326.5,398.5 330.5,401.3 334.5,403.9 338.5,406.6 342.5,409.9 346.5,412.8 350.5,415.6 354.5,418.8 358.5,422.2 362.5,425.8 366.5,429.6 370.5,433.3 374.5,437.9 378.5,442.0 382.5,445.0 386.5,447.9 390.5,450.7 394.5,453.6 398.5,456.1 402.5,456.9 406.5,457.3 410.5,457.3 414.5,455.8 418.5,453.5 422.5,451.8 426.5,449.8 430.5,447.0 434.5,444.1 438.5,439.5 442.5,435.8 446.5,432.3 450.5,431.0 454.5,429.6 458.5,428.0 462.5,425.4 466.5,424.7 470.5,425.5 474.5,427.3 478.5,429.3 482.5,431.6 486.5,432.5 490.5,432.8 494.5,432.3 498.5,429.5 502.5,426.9 506.5,423.6 510.5,421.5 514.5,419.7 518.5,419.0 522.5,420.6 526.5,423.0 530.5,425.8 534.5,429.8 538.5,433.6 542.5,437.0 546.5,440.3 550.5,444.8 554.5,449.6 558.5,456.1 562.5,460.7 566.5,465.5 570.5,468.5 574.5,470.9 578.5,473.4 582.5,476.7 586.5,478.2 590.5,478.3 594.5,476.8 598.5,475.4 602.5,473.7 606.5,472.8 610.5,472.3 614.5,472.0 618.5,473.2 622.5,473.9 626.5,475.8 630.5,477.3 634.5,479.4 638.5,481.0 642.5,481.6 646.5,480.7 650.5,480.4 654.5,480.2 658.5,480.4 662.5,480.7 666.5,482.4 670.5,484.1 674.5,485.6 678.5,485.6 682.5,486.0 686.5,485.0 690.5,483.6 694.5,483.4 698.5,483.0 702.5,482.8 706.5,481.3 710.5,479.5 714.5,476.3 718.5,472.4 722.5,468.6 726.5,464.9 730.5,460.8 734.5,455.9 738.5,451.0 742.5,447.3 746.5,443.4 750.5,438.6 754.5,432.3 758.5,425.4 762.5,418.3 766.5,413.5 770.5,408.6 774.5,402.9 778.5,398.0 782.5,393.3 786.5,388.0 790.5,383.4 794.5,378.7 798.5,374.3 802.5,369.4 806.5,365.8 810.5,362.5 814.5,358.5 818.5,354.3 822.5,350.0 826.5,346.7 830.5,343.0 834.5,341.0 838.5,339.3 842.5,337.5 846.5,335.2 850.5,333.6 854.5,332.6 858.5,332.9 862.5,332.6 866.5,332.6 870.5,331.6 874.5,330.9 878.5,330.2 882.5,329.6 886.5,327.2 890.5,324.7 894.5,322.5 898.5,319.5 902.5,314.9 906.5,309.8 910.5,304.1 914.5,298.5 918.5,292.3 922.5,287.2 926.5,280.9 930.5,273.7 934.5,266.1 938.5,259.1 942.5,252.7 946.5,246.1 950.5,238.1 954.5,230.4 958.5,223.7 962.5,216.9 966.5,211.3 970.5,205.5 974.5,199.6 978.5,193.1 982.5,186.6 986.5,179.8 990.5,173.5 994.5,167.0 998.5,160.8 1002.5,155.5 1006.5,151.3 1010.5,146.9 1014.5,142.4 1018.5,138.3 1022.5,135.6 1026.5,133.1 1030.5,129.8 1034.5,126.6 1038.5,124.1 1042.5,121.5 1046.5,120.7 1050.5,120.2 1054.5,120.2 1058.5,119.4 1062.5,118.6 1066.5,118.3 1070.5,119.4 1074.5,119.1 1078.5,118.3 1082.5,117.8 1086.5,116.3 1090.5,115.3 1094.5,114.8 1098.5,114.8 1102.5,114.5 1106.5,114.4 1110.5,116.1 1114.5,118.9 1118.5,121.7 1122.5,124.1 1126.5,126.1 1130.5,128.1 1134.5,129.9 1138.5,131.2 1142.5,132.3 1146.5,133.2 1150.5,135.6 1154.5,137.8 1158.5,139.9 1162.5,142.0 1166.5,142.9 1170.5,143.8 1174.5,143.8 1178.5,144.1 1182.5,144.2 1186.5,144.8 1190.5,145.4 1194.5,147.6 1198.5,149.1 1202.5,150.5 1206.5,151.5 1210.5,151.8 1214.5,151.4 1218.5,151.4 1222.5,151.6 1226.5,151.4 1230.5,150.4 1234.5,148.7 1238.5,147.8 1242.5,147.9 1246.5,147.5 1250.5,147.3 1254.5,147.6 1258.5,147.5 1262.5,147.7 1266.5,147.9" fill="none" stroke="#0000cd" stroke-width="1" shape-rendering="crispEdges"/>
<polyline points="2.5,385.2 6.5,385.0 10.5,386.7 14.5,388.5 18.5,391.0 22.5,393.6 26.5,395.7 30.5,396.9 34.5,398.6 38.5,401.1 42.5,404.0 46.5,406.2 50.5,409.0 54.5,411.4 58.5,413.5 62.5,415.8 66.5,415.7 70.5,416.9 74.5,417.4 78.5,417.7 82.5,417.9 86.5,418.9 90.5,418.9 94.5,418.4 98.5,417.9 102.5,417.3 106.5,416.6 110.5,416.5 114.5,416.1 118.5,416.6 122.5,417.4 126.5,416.4 130.5,414.7 134.5,412.8 138.5,409.9 142.5,406.3 146.5,403.3 150.5,400.3 154.5,396.7 158.5,395.3 162.5,394.4 166.5,394.3 170.5,394.9 174.5,393.8 178.5,392.9 182.5,392.4 186.5,392.2 190.5,390.1 194.5,388.3 198.5,386.5 202.5,383.8 206.5,381.6 210.5,380.3 214.5,379.3 218.5,377.9 222.5,375.2 226.5,373.3 230.5,372.4 234.5,372.0 238.5,371.2 242.5,370.6 246.5,371.3 250.5,373.0 254.5,374.3 258.5,376.6 262.5,380.0 266.5,383.0 270.5,385.2 274.5,387.0 278.5,390.0 282.5,392.5 286.5,395.1 290.5,397.0 294.5,399.8 298.5,403.2 302.5,406.8 306.5,409.0 310.5,410.9 314.5,412.2 318.5,413.2 322.5,414.5 326.5,416.7 330.5,420.0 334.5,423.2 338.5,425.9 342.5,428.6 346.5,431.7 350.5,434.9 354.5,438.9 358.5,443.0 362.5,448.4 366.5,455.2 370.5,462.4 374.5,469.4 378.5,475.7 382.5,479.7 386.5,482.8 390.5,485.5 394.5,487.6 398.5,488.9 402.5,487.0 406.5,484.5 410.5,479.6 414.5,471.8 418.5,462.6 422.5,454.3 426.5,444.4 430.5,430.5 434.5,416.6 438.5,401.4 442.5,388.5 446.5,377.2 450.5,371.5 454.5,366.4 458.5,364.0 462.5,360.2 466.5,361.8 470.5,369.8 474.5,382.8 478.5,395.0 482.5,409.4 486.5,424.1 490.5,438.3 494.5,454.0 498.5,462.3 502.5,468.2 506.5,467.1 510.5,468.2 514.5,469.8 518.5,475.2 522.5,478.3 526.5,479.2 530.5,476.2 534.5,472.9 538.5,466.7 542.5,463.9 546.5,460.3 550.5,457.2 554.5,459.8 558.5,463.9 562.5,468.0 566.5,471.5 570.5,476.2 574.5,477.5 578.5,477.3 582.5,475.3 586.5,474.2 590.5,473.6 594.5,475.5 598.5,477.4 602.5,481.0 606.5,484.2 610.5,486.7 614.5,488.1 618.5,489.1 622.5,486.3 626.5,482.7 630.5,481.9 634.5,482.5 638.5,484.4 642.5,485.4 646.5,484.5 650.5,483.7 654.5,483.1 658.5,481.1 662.5,480.9 666.5,482.0 670.5,483.1 674.5,486.4 678.5,488.9 682.5,489.9 686.5,488.0 690.5,485.2 694.5,482.8 698.5,480.5 702.5,479.7 706.5,476.1 710.5,472.1 714.5,466.7 718.5,459.4 722.5,451.4 726.5,443.1 730.5,433.6 734.5,424.4 738.5,414.0 742.5,405.7 746.5,396.5 750.5,385.9 754.5,373.8 758.5,361.4 762.5,350.5 766.5,342.9 770.5,338.6 774.5,334.3 778.5,330.0 782.5,327.4 786.5,326.1 790.5,327.7 794.5,331.4 798.5,332.3 802.5,331.5 806.5,332.0 810.5,335.6 814.5,339.3 818.5,343.4 822.5,343.7 826.5,343.5 830.5,343.8 834.5,344.4 838.5,343.9 842.5,343.2 846.5,339.9 850.5,336.9 854.5,335.1 858.5,335.7 862.5,334.5 866.5,332.4 870.5,328.4 874.5,323.5 878.5,319.0 882.5,313.8 886.5,309.0 890.5,303.6 894.5,298.1 898.5,291.3 902.5,283.8 906.5,275.0 910.5,266.7 914.5,257.6 918.5,246.0 922.5,234.3 926.5,223.4 930.5,213.1 934.5,201.9 938.5,192.4 942.5,184.1 946.5,175.2 950.5,163.1 954.5,153.5 958.5,148.5 962.5,144.2 966.5,141.1 970.5,137.7 974.5,136.5 978.5,134.2 982.5,132.4 986.5,131.2 990.5,129.9 994.5,126.1 998.5,122.1 1002.5,119.6 1006.5,122.9 1010.5,124.7 1014.5,123.8 1018.5,122.8 1022.5,121.4 1026.5,119.9 1030.5,117.0 1034.5,115.2 1038.5,112.1 1042.5,109.2 1046.5,110.1 1050.5,112.8 1054.5,114.9 1058.5,115.1 1062.5,114.0 1066.5,114.1 1070.5,114.0 1074.5,112.3 1078.5,111.6 1082.5,111.5 1086.5,112.2 1090.5,113.4 1094.5,116.5 1098.5,119.8 1102.5,119.2 1106.5,118.8 1110.5,121.0 1114.5,125.0 1118.5,128.8 1122.5,132.0 1126.5,137.2 1130.5,144.0 1134.5,148.7 1138.5,151.6 1142.5,155.7 1146.5,158.2 1150.5,161.6 1154.5,164.5 1158.5,166.5 1162.5,168.3 1166.5,167.5 1170.5,166.1 1174.5,162.2 1178.5,157.8 1182.5,152.8 1186.5,149.7 1190.5,147.1 1194.5,147.5 1198.5,147.7 1202.5,148.5 1206.5,146.3 1210.5,143.5 1214.5,141.2 1218.5,140.0 1222.5,137.8 1226.5,135.1 1230.5,135.3 1234.5,135.1 1238.5,136.5 1242.5,138.6 1246.5,141.7 1250.5,143.3 1254.5,145.4 1258.5,145.2 1262.5,147.5 1266.5,149.8" fill="none" stroke="#ff0000" stroke-width="1" shape-rendering="crispEdges"/>
<polyline points="2.5,377.6 6.5,374.4 10.5,378.9 14.5,385.2 18.5,394.3 22.5,404.7 26.5,414.8 30.5,417.7 34.5,422.8 38.5,425.7 42.5,427.1 46.5,424.7 50.5,423.2 54.5,417.9 58.5,412.5 62.5,407.5 66.5,405.3 70.5,407.0 74.5,411.3 78.5,416.3 82.5,420.7 86.5,426.8 90.5,428.6 94.5,428.3 98.5,427.7 102.5,423.0 106.5,416.8 110.5,411.0 114.5,406.2 118.5,404.0 122.5,405.5 126.5,406.5 130.5,406.2 134.5,406.9 138.5,401.8 142.5,395.6 146.5,391.7 150.5,388.2 154.5,382.7 158.5,382.1 162.5,383.5 166.5,385.9 170.5,390.9 174.5,396.1 178.5,398.8 182.5,401.1 186.5,400.2 190.5,393.3 194.5,386.2 198.5,377.7 202.5,367.5 206.5,358.6 210.5,355.4 214.5,357.0 218.5,359.5 222.5,362.1 226.5,367.7 230.5,374.0 234.5,378.3 238.5,382.3 242.5,387.1 246.5,387.8 250.5,387.9 254.5,384.2 258.5,382.5 262.5,385.0 266.5,388.2 270.5,391.1 274.5,395.0 278.5,399.5 282.5,402.9 286.5,407.8 290.5,411.4 294.5,418.0 298.5,424.1 302.5,427.8 306.5,426.9 310.5,423.0 314.5,417.3 318.5,413.0 322.5,409.7 326.5,412.5 330.5,420.5 334.5,430.2 338.5,438.4 342.5,447.1 346.5,453.6 350.5,459.6 354.5,468.0 358.5,475.8 362.5,482.4 366.5,488.8 370.5,494.4 374.5,498.5 378.5,501.3 382.5,500.2 386.5,497.9 390.5,495.0 394.5,489.5 398.5,484.0 402.5,474.0 406.5,464.3 410.5,451.3 414.5,431.5 418.5,408.6 422.5,397.1 426.5,382.0 430.5,361.0 434.5,346.7 438.5,328.8 442.5,313.9 446.5,307.1 450.5,324.5 454.5,343.3 458.5,369.5 462.5,384.8 466.5,408.0 470.5,426.6 474.5,454.5 478.5,483.9 482.5,519.8 486.5,535.8 490.5,538.6 494.5,528.2 498.5,502.2 502.5,472.0 506.5,444.7 510.5,427.2 514.5,413.9 518.5,421.1 522.5,436.0 526.5,460.5 530.5,476.7 534.5,492.4 538.5,495.8 542.5,495.6 546.5,485.6 550.5,475.2 554.5,465.6 558.5,464.1 562.5,456.0 566.5,458.6 570.5,467.0 574.5,470.7 578.5,473.5 582.5,480.9 586.5,484.2 590.5,485.0 594.5,490.3 598.5,495.7 602.5,501.6 606.5,503.2 610.5,502.5 614.5,499.2 618.5,488.8 622.5,473.6 626.5,462.7 630.5,457.2 634.5,458.0 638.5,467.9 642.5,481.6 646.5,490.0 650.5,495.3 654.5,497.3 658.5,492.5 662.5,490.6 666.5,495.7 670.5,497.5 674.5,498.0 678.5,495.2 682.5,487.9 686.5,474.0 690.5,463.9 694.5,457.7 698.5,458.2 702.5,461.3 706.5,462.1 710.5,460.7 714.5,447.4 718.5,431.7 722.5,416.5 726.5,405.1 730.5,390.3 734.5,376.8 738.5,360.7 742.5,345.9 746.5,333.4 750.5,324.0 754.5,316.4 758.5,314.0 762.5,307.6 766.5,310.6 770.5,315.1 774.5,321.1 778.5,328.4 782.5,340.4 786.5,343.1 790.5,346.4 794.5,352.8 798.5,352.6 802.5,344.8 806.5,340.6 810.5,338.4 814.5,336.2 818.5,338.6 822.5,345.0 826.5,347.2 830.5,344.2 834.5,342.7 838.5,341.7 842.5,341.6 846.5,336.3 850.5,333.5 854.5,326.4 858.5,322.1 862.5,316.3 866.5,317.4 870.5,312.2 874.5,306.1 878.5,298.2 882.5,289.4 886.5,278.5 890.5,273.4 894.5,270.7 898.5,263.8 902.5,252.4 906.5,238.5 910.5,223.2 914.5,208.7 918.5,189.5 922.5,178.6 926.5,167.5 930.5,156.0 934.5,142.0 938.5,139.5 942.5,138.1 946.5,138.6 950.5,130.6 954.5,128.4 958.5,129.3 962.5,126.8 966.5,127.6 970.5,137.6 974.5,141.8 978.5,138.5 982.5,134.5 986.5,128.2 990.5,120.4 994.5,110.4 998.5,104.3 1002.5,102.6 1006.5,107.6 1010.5,113.6 1014.5,122.9 1018.5,128.8 1022.5,132.7 1026.5,129.0 1030.5,120.5 1034.5,114.3 1038.5,104.5 1042.5,94.0 1046.5,93.1 1050.5,98.4 1054.5,103.7 1058.5,111.0 1062.5,120.8 1066.5,124.6 1070.5,126.3 1074.5,121.6 1078.5,122.9 1082.5,122.0 1086.5,115.4 1090.5,112.7 1094.5,116.2 1098.5,117.1 1102.5,114.7 1106.5,116.9 1110.5,125.0 1114.5,134.8 1118.5,145.9 1122.5,160.4 1126.5,177.7 1130.5,185.9 1134.5,189.1 1138.5,186.0 1142.5,181.8 1146.5,171.6 1150.5,165.5 1154.5,161.4 1158.5,156.2 1162.5,152.2 1166.5,151.1 1170.5,147.4 1174.5,139.4 1178.5,136.3 1182.5,134.1 1186.5,136.1 1190.5,136.0 1194.5,145.0 1198.5,153.3 1202.5,159.6 1206.5,155.9 1210.5,151.1 1214.5,138.5 1218.5,130.6 1222.5,121.2 1226.5,115.8 1230.5,116.5 1234.5,119.1 1238.5,124.4 1242.5,138.4 1246.5,154.5 1250.5,167.3 1254.5,182.4 1258.5,184.1 1262.5,180.6 1266.5,173.8" fill="none" stroke="#ffa500" stroke-width="1" shape-rendering="crispEdges"/>
<g shape-rendering="crispEdges">
<rect x="1" y="25" width="1" height="557" fill="#000"/>
<rect x="1" y="54" width="1593" height="2" fill="#ff0000"/>
<rect x="1" y="52" width="6" height="6" fill="#ff0000"/>
<rect x="3" y="54" width="2" height="2" fill="#fff"/>
<rect x="1588" y="52" width="6" height="6" fill="#ff0000"/>
<rect x="1590" y="54" width="2" height="2" fill="#fff"/>
<rect x="1" y="92" width="1593" height="2" fill="#ff0000"/>
<rect x="1" y="90" width="6" height="6" fill="#ff0000"/>
<rect x="3" y="92" width="2" height="2" fill="#fff"/>
<rect x="1588" y="90" width="6" height="6" fill="#ff0000"/>
<rect x="1590" y="92" width="2" height="2" fill="#fff"/>
<rect x="1" y="129" width="1593" height="2" fill="#00ff00"/>
<rect x="1" y="127" width="6" height="6" fill="#00ff00"/>
<rect x="3" y="129" width="2" height="2" fill="#fff"/>
<rect x="1588" y="127" width="6" height="6" fill="#00ff00"/>
<rect x="1590" y="129" width="2" height="2" fill="#fff"/>
<rect x="1" y="167" width="1593" height="2" fill="#0000ff"/>
<rect x="1" y="165" width="6" height="6" fill="#0000ff"/>
<rect x="3" y="167" width="2" height="2" fill="#fff"/>
<rect x="1588" y="165" width="6" height="6" fill="#0000ff"/>
<rect x="1590" y="167" width="2" height="2" fill="#fff"/>
<rect x="1" y="205" width="1593" height="2" fill="#0000ff"/>
<rect x="1" y="203" width="6" height="6" fill="#0000ff"/>
<rect x="3" y="205" width="2" height="2" fill="#fff"/>
<rect x="1588" y="203" width="6" height="6" fill="#0000ff"/>
<rect x="1590" y="205" width="2" height="2" fill="#fff"/>
<rect x="1594" y="25" width="1" height="764" fill="#000"/>
</g>
<path d="M1269.5 26 L1280.5 26 L1275 31.5 Z" fill="#c0c0c0"/>
<path d="M5 32 L12 32 L8.5 36 Z" fill="#000"/>
<text x="17.2" y="37" font-size="10" fill="#000" textLength="211.5" lengthAdjust="spacingAndGlyphs" stroke="#000" stroke-width="0.25">EURUSD,Daily&#160;&#160;1.17070 1.17382 1.16968 1.17352</text>
<g shape-rendering="crispEdges">
<rect x="1595" y="50" width="2" height="1" fill="#000"/>
<rect x="1595" y="83" width="2" height="1" fill="#000"/>
<rect x="1595" y="116" width="2" height="1" fill="#000"/>
<rect x="1595" y="149" width="2" height="1" fill="#000"/>
<rect x="1595" y="182" width="2" height="1" fill="#000"/>
<rect x="1595" y="215" width="2" height="1" fill="#000"/>
<rect x="1595" y="248" width="2" height="1" fill="#000"/>
<rect x="1595" y="281" width="2" height="1" fill="#000"/>
<rect x="1595" y="314" width="2" height="1" fill="#000"/>
<rect x="1595" y="347" width="2" height="1" fill="#000"/>
<rect x="1595" y="380" width="2" height="1" fill="#000"/>
<rect x="1595" y="414" width="2" height="1" fill="#000"/>
<rect x="1595" y="446" width="2" height="1" fill="#000"/>
<rect x="1595" y="479" width="2" height="1" fill="#000"/>
<rect x="1595" y="512" width="2" height="1" fill="#000"/>
<rect x="1595" y="545" width="2" height="1" fill="#000"/>
<rect x="1595" y="578" width="2" height="1" fill="#000"/>
</g>
<text x="1600" y="54" font-size="10" fill="#000" textLength="33" lengthAdjust="spacingAndGlyphs" stroke="#000" stroke-width="0.25">1.20155</text>
<text x="1600" y="87" font-size="10" fill="#000" textLength="33" lengthAdjust="spacingAndGlyphs" stroke="#000" stroke-width="0.25">1.19280</text>
<text x="1600" y="120" font-size="10" fill="#000" textLength="33" lengthAdjust="spacingAndGlyphs" stroke="#000" stroke-width="0.25">1.18405</text>
<text x="1600" y="153" font-size="10" fill="#000" textLength="33" lengthAdjust="spacingAndGlyphs" stroke="#000" stroke-width="0.25">1.17530</text>
<text x="1600" y="186" font-size="10" fill="#000" textLength="33" lengthAdjust="spacingAndGlyphs" stroke="#000" stroke-width="0.25">1.16655</text>
<text x="1600" y="219" font-size="10" fill="#000" textLength="33" lengthAdjust="spacingAndGlyphs" stroke="#000" stroke-width="0.25">1.15755</text>
<text x="1600" y="252" font-size="10" fill="#000" textLength="33" lengthAdjust="spacingAndGlyphs" stroke="#000" stroke-width="0.25">1.14880</text>
<text x="1600" y="285" font-size="10" fill="#000" textLength="33" lengthAdjust="spacingAndGlyphs" stroke="#000" stroke-width="0.25">1.14005</text>
<text x="1600" y="318" font-size="10" fill="#000" textLength="33" lengthAdjust="spacingAndGlyphs" stroke="#000" stroke-width="0.25">1.13130</text>
<text x="1600" y="351" font-size="10" fill="#000" textLength="33" lengthAdjust="spacingAndGlyphs" stroke="#000" stroke-width="0.25">1.12255</text>
<text x="1600" y="384" font-size="10" fill="#000" textLength="33" lengthAdjust="spacingAndGlyphs" stroke="#000" stroke-width="0.25">1.11380</text>
<text x="1600" y="418" font-size="10" fill="#000" textLength="33" lengthAdjust="spacingAndGlyphs" stroke="#000" stroke-width="0.25">1.10480</text>
<text x="1600" y="450" font-size="10" fill="#000" textLength="33" lengthAdjust="spacingAndGlyphs" stroke="#000" stroke-width="0.25">1.09605</text>
<text x="1600" y="483" font-size="10" fill="#000" textLength="33" lengthAdjust="spacingAndGlyphs" stroke="#000" stroke-width="0.25">1.08730</text>
<text x="1600" y="516" font-size="10" fill="#000" textLength="33" lengthAdjust="spacingAndGlyphs" stroke="#000" stroke-width="0.25">1.07855</text>
<text x="1600" y="549" font-size="10" fill="#000" textLength="33" lengthAdjust="spacingAndGlyphs" stroke="#000" stroke-width="0.25">1.06980</text>
<text x="1600" y="582" font-size="10" fill="#000" textLength="33" lengthAdjust="spacingAndGlyphs" stroke="#000" stroke-width="0.25">1.06105</text>
<g shape-rendering="crispEdges">
<rect x="1596" y="49" width="41" height="11" fill="#ff0000"/>
<rect x="1596" y="87" width="41" height="11" fill="#ff0000"/>
<rect x="1596" y="124" width="41" height="11" fill="#00ff00"/>
<rect x="1596" y="162" width="41" height="11" fill="#0000ff"/>
<rect x="1596" y="200" width="41" height="11" fill="#0000ff"/>
<rect x="1596" y="151" width="41" height="11" fill="#000"/>
</g>
<text x="1600" y="58" font-size="10" fill="#fff" textLength="33" lengthAdjust="spacingAndGlyphs" stroke="#fff" stroke-width="0.25">1.20019</text>
<text x="1600" y="96" font-size="10" fill="#fff" textLength="33" lengthAdjust="spacingAndGlyphs" stroke="#fff" stroke-width="0.25">1.19008</text>
<text x="1600" y="133" font-size="10" fill="#fff" textLength="33" lengthAdjust="spacingAndGlyphs" stroke="#fff" stroke-width="0.25">1.18024</text>
<text x="1600" y="171" font-size="10" fill="#fff" textLength="33" lengthAdjust="spacingAndGlyphs" stroke="#fff" stroke-width="0.25">1.17014</text>
<text x="1600" y="209" font-size="10" fill="#fff" textLength="33" lengthAdjust="spacingAndGlyphs" stroke="#fff" stroke-width="0.25">1.16003</text>
<text x="1600" y="160" font-size="10" fill="#fff" textLength="33" lengthAdjust="spacingAndGlyphs" stroke="#fff" stroke-width="0.25">1.17352</text>
<g shape-rendering="crispEdges">
<line x1="3" x2="1594" y1="614.5" y2="614.5" stroke="#c4c4c4" stroke-width="1" stroke-dasharray="3 3"/>
<line x1="3" x2="1594" y1="654.5" y2="654.5" stroke="#c4c4c4" stroke-width="1" stroke-dasharray="3 3"/>
<rect x="1595" y="585" width="1" height="1" fill="#000"/>
<rect x="1595" y="684" width="1" height="1" fill="#000"/>
</g>
<polyline points="2.5,616.2 6.5,618.2 10.5,638.5 14.5,637.7 18.5,643.7 22.5,647.6 26.5,647.9 30.5,643.2 34.5,647.4 38.5,648.0 42.5,649.0 46.5,636.6 50.5,635.5 54.5,630.7 58.5,631.3 62.5,633.5 66.5,631.0 70.5,640.6 74.5,642.3 78.5,644.5 82.5,644.8 86.5,646.7 90.5,643.6 94.5,638.7 98.5,640.6 102.5,628.8 106.5,627.0 110.5,626.1 114.5,625.0 118.5,635.7 122.5,634.7 126.5,631.2 130.5,627.1 134.5,628.7 138.5,622.9 142.5,620.0 146.5,623.6 150.5,620.9 154.5,618.1 158.5,626.3 162.5,628.3 166.5,634.4 170.5,637.7 174.5,634.2 178.5,634.0 182.5,634.7 186.5,631.6 190.5,620.6 194.5,617.9 198.5,615.5 202.5,613.1 206.5,614.5 210.5,618.1 214.5,628.4 218.5,627.4 222.5,624.1 226.5,633.6 230.5,637.3 234.5,640.0 238.5,637.9 242.5,636.2 246.5,634.2 250.5,636.9 254.5,630.5 258.5,633.5 262.5,641.7 266.5,641.7 270.5,643.4 274.5,638.9 278.5,642.8 282.5,647.5 286.5,650.2 290.5,648.7 294.5,651.3 298.5,653.3 302.5,653.3 306.5,642.9 310.5,633.7 314.5,632.7 318.5,638.8 322.5,641.1 326.5,646.8 330.5,649.6 334.5,651.6 338.5,653.2 342.5,655.3 346.5,656.5 350.5,658.2 354.5,662.4 358.5,662.8 362.5,663.1 366.5,663.9 370.5,664.4 374.5,666.6 378.5,662.9 382.5,649.6 386.5,648.2 390.5,648.2 394.5,646.3 398.5,643.3 402.5,624.0 406.5,623.6 410.5,618.5 414.5,610.2 418.5,607.1 422.5,614.7 426.5,611.3 430.5,605.5 434.5,605.0 438.5,601.5 442.5,612.7 446.5,619.1 450.5,635.7 454.5,636.3 458.5,636.1 462.5,631.7 466.5,642.1 470.5,648.7 474.5,653.6 478.5,654.2 482.5,655.1 486.5,647.1 490.5,644.7 494.5,641.7 498.5,630.8 502.5,629.2 506.5,626.2 510.5,631.9 514.5,632.7 518.5,637.2 522.5,640.8 526.5,643.7 530.5,642.8 534.5,643.1 538.5,637.5 542.5,638.8 546.5,634.4 550.5,633.1 554.5,634.4 558.5,636.2 562.5,631.6 566.5,636.9 570.5,640.4 574.5,637.2 578.5,638.2 582.5,637.7 586.5,639.3 590.5,641.0 594.5,642.2 598.5,643.5 602.5,643.5 606.5,639.5 610.5,638.7 614.5,636.6 618.5,628.7 622.5,623.6 626.5,626.2 630.5,632.9 634.5,638.8 638.5,642.0 642.5,640.9 646.5,635.9 650.5,638.0 654.5,640.0 658.5,634.9 662.5,637.6 666.5,641.3 670.5,639.2 674.5,639.6 678.5,630.1 682.5,627.4 686.5,623.8 690.5,627.4 694.5,633.3 698.5,632.7 702.5,633.2 706.5,626.1 710.5,626.6 714.5,618.9 718.5,616.6 722.5,618.0 726.5,616.3 730.5,613.8 734.5,609.5 738.5,606.4 742.5,610.2 746.5,610.8 750.5,610.8 754.5,607.8 758.5,607.6 762.5,606.5 766.5,623.6 770.5,625.8 774.5,622.9 778.5,624.3 782.5,628.6 786.5,629.2 790.5,632.3 794.5,632.5 798.5,625.3 802.5,620.5 806.5,626.7 810.5,632.2 814.5,632.5 818.5,631.2 822.5,630.1 826.5,630.0 830.5,628.1 834.5,631.2 838.5,630.4 842.5,630.6 846.5,622.8 850.5,625.0 854.5,621.7 858.5,626.2 862.5,624.3 866.5,627.9 870.5,620.7 874.5,617.1 878.5,617.8 882.5,615.5 886.5,615.0 890.5,616.1 894.5,615.1 898.5,611.0 902.5,605.6 906.5,603.8 910.5,603.2 914.5,603.2 918.5,598.8 922.5,602.5 926.5,601.0 930.5,600.3 934.5,599.2 938.5,606.0 942.5,612.2 946.5,611.2 950.5,604.8 954.5,611.2 958.5,621.0 962.5,620.4 966.5,623.6 970.5,622.8 974.5,620.5 978.5,619.0 982.5,617.7 986.5,617.4 990.5,615.2 994.5,611.4 998.5,616.2 1002.5,621.8 1006.5,631.8 1010.5,630.4 1014.5,628.9 1018.5,627.6 1022.5,629.1 1026.5,627.4 1030.5,620.4 1034.5,622.4 1038.5,617.5 1042.5,618.2 1046.5,631.8 1050.5,632.2 1054.5,633.8 1058.5,630.2 1062.5,634.4 1066.5,637.4 1070.5,634.9 1074.5,627.8 1078.5,632.6 1082.5,633.6 1086.5,628.9 1090.5,632.3 1094.5,633.5 1098.5,634.7 1102.5,630.7 1106.5,632.4 1110.5,643.6 1114.5,646.2 1118.5,648.4 1122.5,649.2 1126.5,652.8 1130.5,651.3 1134.5,646.1 1138.5,639.2 1142.5,638.6 1146.5,635.0 1150.5,639.7 1154.5,638.7 1158.5,630.8 1162.5,632.0 1166.5,633.2 1170.5,634.2 1174.5,627.0 1178.5,626.4 1182.5,629.7 1186.5,637.7 1190.5,635.2 1194.5,641.3 1198.5,639.4 1202.5,638.9 1206.5,630.8 1210.5,627.3 1214.5,623.0 1218.5,629.2 1222.5,626.9 1226.5,625.5 1230.5,631.4 1234.5,629.2 1238.5,638.2 1242.5,645.8 1246.5,646.8 1250.5,647.0 1254.5,647.6 1258.5,636.5 1262.5,638.8 1266.5,635.4" fill="none" stroke="#1e90ff" stroke-width="1" shape-rendering="crispEdges"/>
<text x="6.2" y="596" font-size="10" fill="#000" textLength="68" lengthAdjust="spacingAndGlyphs" stroke="#000" stroke-width="0.25">RSI(14) 49.0013</text>
<text x="1598" y="594" font-size="10" fill="#000" textLength="15" lengthAdjust="spacingAndGlyphs" stroke="#000" stroke-width="0.25">100</text>
<text x="1597" y="618" font-size="10" fill="#000" textLength="10.5" lengthAdjust="spacingAndGlyphs" stroke="#000" stroke-width="0.25">70</text>
<text x="1597" y="658" font-size="10" fill="#000" textLength="10.5" lengthAdjust="spacingAndGlyphs" stroke="#000" stroke-width="0.25">30</text>
<text x="1598" y="682" font-size="10" fill="#000" textLength="5.3" lengthAdjust="spacingAndGlyphs" stroke="#000" stroke-width="0.25">0</text>
<g shape-rendering="crispEdges">
<rect x="2" y="737" width="1" height="14" fill="#c0c0c0"/>
<rect x="6" y="737" width="1" height="14" fill="#c0c0c0"/>
<rect x="10" y="739" width="1" height="12" fill="#c0c0c0"/>
<rect x="14" y="742" width="1" height="9" fill="#c0c0c0"/>
<rect x="18" y="745" width="1" height="6" fill="#c0c0c0"/>
<rect x="22" y="748" width="1" height="3" fill="#c0c0c0"/>
<rect x="26" y="750" width="1" height="1" fill="#c0c0c0"/>
<rect x="30" y="750" width="1" height="3" fill="#c0c0c0"/>
<rect x="34" y="750" width="1" height="5" fill="#c0c0c0"/>
<rect x="38" y="750" width="1" height="6" fill="#c0c0c0"/>
<rect x="42" y="750" width="1" height="8" fill="#c0c0c0"/>
<rect x="46" y="750" width="1" height="7" fill="#c0c0c0"/>
<rect x="50" y="750" width="1" height="6" fill="#c0c0c0"/>
<rect x="54" y="750" width="1" height="5" fill="#c0c0c0"/>
<rect x="58" y="750" width="1" height="4" fill="#c0c0c0"/>
<rect x="62" y="750" width="1" height="3" fill="#c0c0c0"/>
<rect x="66" y="750" width="1" height="2" fill="#c0c0c0"/>
<rect x="70" y="750" width="1" height="3" fill="#c0c0c0"/>
<rect x="74" y="750" width="1" height="4" fill="#c0c0c0"/>
<rect x="78" y="750" width="1" height="5" fill="#c0c0c0"/>
<rect x="82" y="750" width="1" height="6" fill="#c0c0c0"/>
<rect x="86" y="750" width="1" height="7" fill="#c0c0c0"/>
<rect x="90" y="750" width="1" height="7" fill="#c0c0c0"/>
<rect x="94" y="750" width="1" height="7" fill="#c0c0c0"/>
<rect x="98" y="750" width="1" height="7" fill="#c0c0c0"/>
<rect x="102" y="750" width="1" height="5" fill="#c0c0c0"/>
<rect x="106" y="750" width="1" height="3" fill="#c0c0c0"/>
<rect x="110" y="750" width="1" height="2" fill="#c0c0c0"/>
<rect x="114" y="749" width="1" height="2" fill="#c0c0c0"/>
<rect x="118" y="749" width="1" height="2" fill="#c0c0c0"/>
<rect x="122" y="750" width="1" height="1" fill="#c0c0c0"/>
<rect x="126" y="749" width="1" height="2" fill="#c0c0c0"/>
<rect x="130" y="748" width="1" height="3" fill="#c0c0c0"/>
<rect x="134" y="748" width="1" height="3" fill="#c0c0c0"/>
<rect x="138" y="746" width="1" height="5" fill="#c0c0c0"/>
<rect x="142" y="744" width="1" height="7" fill="#c0c0c0"/>
<rect x="146" y="743" width="1" height="8" fill="#c0c0c0"/>
<rect x="150" y="742" width="1" height="9" fill="#c0c0c0"/>
<rect x="154" y="741" width="1" height="10" fill="#c0c0c0"/>
<rect x="158" y="741" width="1" height="10" fill="#c0c0c0"/>
<rect x="162" y="741" width="1" height="10" fill="#c0c0c0"/>
<rect x="166" y="743" width="1" height="8" fill="#c0c0c0"/>
<rect x="170" y="744" width="1" height="7" fill="#c0c0c0"/>
<rect x="174" y="745" width="1" height="6" fill="#c0c0c0"/>
<rect x="178" y="746" width="1" height="5" fill="#c0c0c0"/>
<rect x="182" y="747" width="1" height="4" fill="#c0c0c0"/>
<rect x="186" y="747" width="1" height="4" fill="#c0c0c0"/>
<rect x="190" y="745" width="1" height="6" fill="#c0c0c0"/>
<rect x="194" y="743" width="1" height="8" fill="#c0c0c0"/>
<rect x="198" y="740" width="1" height="11" fill="#c0c0c0"/>
<rect x="202" y="738" width="1" height="13" fill="#c0c0c0"/>
<rect x="206" y="737" width="1" height="14" fill="#c0c0c0"/>
<rect x="210" y="736" width="1" height="15" fill="#c0c0c0"/>
<rect x="214" y="737" width="1" height="14" fill="#c0c0c0"/>
<rect x="218" y="738" width="1" height="13" fill="#c0c0c0"/>
<rect x="222" y="738" width="1" height="13" fill="#c0c0c0"/>
<rect x="226" y="740" width="1" height="11" fill="#c0c0c0"/>
<rect x="230" y="742" width="1" height="9" fill="#c0c0c0"/>
<rect x="234" y="744" width="1" height="7" fill="#c0c0c0"/>
<rect x="238" y="746" width="1" height="5" fill="#c0c0c0"/>
<rect x="242" y="747" width="1" height="4" fill="#c0c0c0"/>
<rect x="246" y="747" width="1" height="4" fill="#c0c0c0"/>
<rect x="250" y="748" width="1" height="3" fill="#c0c0c0"/>
<rect x="254" y="748" width="1" height="3" fill="#c0c0c0"/>
<rect x="258" y="748" width="1" height="3" fill="#c0c0c0"/>
<rect x="262" y="750" width="1" height="1" fill="#c0c0c0"/>
<rect x="266" y="750" width="1" height="2" fill="#c0c0c0"/>
<rect x="270" y="750" width="1" height="3" fill="#c0c0c0"/>
<rect x="274" y="750" width="1" height="4" fill="#c0c0c0"/>
<rect x="278" y="750" width="1" height="5" fill="#c0c0c0"/>
<rect x="282" y="750" width="1" height="7" fill="#c0c0c0"/>
<rect x="286" y="750" width="1" height="9" fill="#c0c0c0"/>
<rect x="290" y="750" width="1" height="10" fill="#c0c0c0"/>
<rect x="294" y="750" width="1" height="12" fill="#c0c0c0"/>
<rect x="298" y="750" width="1" height="13" fill="#c0c0c0"/>
<rect x="302" y="750" width="1" height="14" fill="#c0c0c0"/>
<rect x="306" y="750" width="1" height="14" fill="#c0c0c0"/>
<rect x="310" y="750" width="1" height="12" fill="#c0c0c0"/>
<rect x="314" y="750" width="1" height="10" fill="#c0c0c0"/>
<rect x="318" y="750" width="1" height="9" fill="#c0c0c0"/>
<rect x="322" y="750" width="1" height="9" fill="#c0c0c0"/>
<rect x="326" y="750" width="1" height="10" fill="#c0c0c0"/>
<rect x="330" y="750" width="1" height="12" fill="#c0c0c0"/>
<rect x="334" y="750" width="1" height="14" fill="#c0c0c0"/>
<rect x="338" y="750" width="1" height="15" fill="#c0c0c0"/>
<rect x="342" y="750" width="1" height="17" fill="#c0c0c0"/>
<rect x="346" y="750" width="1" height="19" fill="#c0c0c0"/>
<rect x="350" y="750" width="1" height="20" fill="#c0c0c0"/>
<rect x="354" y="750" width="1" height="23" fill="#c0c0c0"/>
<rect x="358" y="750" width="1" height="25" fill="#c0c0c0"/>
<rect x="362" y="750" width="1" height="27" fill="#c0c0c0"/>
<rect x="366" y="750" width="1" height="28" fill="#c0c0c0"/>
<rect x="370" y="750" width="1" height="29" fill="#c0c0c0"/>
<rect x="374" y="750" width="1" height="30" fill="#c0c0c0"/>
<rect x="378" y="750" width="1" height="30" fill="#c0c0c0"/>
<rect x="382" y="750" width="1" height="28" fill="#c0c0c0"/>
<rect x="386" y="750" width="1" height="27" fill="#c0c0c0"/>
<rect x="390" y="750" width="1" height="25" fill="#c0c0c0"/>
<rect x="394" y="750" width="1" height="23" fill="#c0c0c0"/>
<rect x="398" y="750" width="1" height="21" fill="#c0c0c0"/>
<rect x="402" y="750" width="1" height="15" fill="#c0c0c0"/>
<rect x="406" y="750" width="1" height="11" fill="#c0c0c0"/>
<rect x="410" y="750" width="1" height="6" fill="#c0c0c0"/>
<rect x="414" y="747" width="1" height="4" fill="#c0c0c0"/>
<rect x="418" y="740" width="1" height="11" fill="#c0c0c0"/>
<rect x="422" y="736" width="1" height="15" fill="#c0c0c0"/>
<rect x="426" y="731" width="1" height="20" fill="#c0c0c0"/>
<rect x="430" y="723" width="1" height="28" fill="#c0c0c0"/>
<rect x="434" y="717" width="1" height="34" fill="#c0c0c0"/>
<rect x="438" y="710" width="1" height="41" fill="#c0c0c0"/>
<rect x="442" y="707" width="1" height="44" fill="#c0c0c0"/>
<rect x="446" y="707" width="1" height="44" fill="#c0c0c0"/>
<rect x="450" y="715" width="1" height="36" fill="#c0c0c0"/>
<rect x="454" y="721" width="1" height="30" fill="#c0c0c0"/>
<rect x="458" y="726" width="1" height="25" fill="#c0c0c0"/>
<rect x="462" y="729" width="1" height="22" fill="#c0c0c0"/>
<rect x="466" y="736" width="1" height="15" fill="#c0c0c0"/>
<rect x="470" y="747" width="1" height="4" fill="#c0c0c0"/>
<rect x="474" y="750" width="1" height="11" fill="#c0c0c0"/>
<rect x="478" y="750" width="1" height="21" fill="#c0c0c0"/>
<rect x="482" y="750" width="1" height="30" fill="#c0c0c0"/>
<rect x="486" y="750" width="1" height="33" fill="#c0c0c0"/>
<rect x="490" y="750" width="1" height="34" fill="#c0c0c0"/>
<rect x="494" y="750" width="1" height="33" fill="#c0c0c0"/>
<rect x="498" y="750" width="1" height="26" fill="#c0c0c0"/>
<rect x="502" y="750" width="1" height="18" fill="#c0c0c0"/>
<rect x="506" y="750" width="1" height="10" fill="#c0c0c0"/>
<rect x="510" y="750" width="1" height="7" fill="#c0c0c0"/>
<rect x="514" y="750" width="1" height="5" fill="#c0c0c0"/>
<rect x="518" y="750" width="1" height="6" fill="#c0c0c0"/>
<rect x="522" y="750" width="1" height="9" fill="#c0c0c0"/>
<rect x="526" y="750" width="1" height="14" fill="#c0c0c0"/>
<rect x="530" y="750" width="1" height="17" fill="#c0c0c0"/>
<rect x="534" y="750" width="1" height="19" fill="#c0c0c0"/>
<rect x="538" y="750" width="1" height="18" fill="#c0c0c0"/>
<rect x="542" y="750" width="1" height="17" fill="#c0c0c0"/>
<rect x="546" y="750" width="1" height="15" fill="#c0c0c0"/>
<rect x="550" y="750" width="1" height="12" fill="#c0c0c0"/>
<rect x="554" y="750" width="1" height="10" fill="#c0c0c0"/>
<rect x="558" y="750" width="1" height="9" fill="#c0c0c0"/>
<rect x="562" y="750" width="1" height="7" fill="#c0c0c0"/>
<rect x="566" y="750" width="1" height="7" fill="#c0c0c0"/>
<rect x="570" y="750" width="1" height="9" fill="#c0c0c0"/>
<rect x="574" y="750" width="1" height="9" fill="#c0c0c0"/>
<rect x="578" y="750" width="1" height="9" fill="#c0c0c0"/>
<rect x="582" y="750" width="1" height="10" fill="#c0c0c0"/>
<rect x="586" y="750" width="1" height="10" fill="#c0c0c0"/>
<rect x="590" y="750" width="1" height="11" fill="#c0c0c0"/>
<rect x="594" y="750" width="1" height="13" fill="#c0c0c0"/>
<rect x="598" y="750" width="1" height="14" fill="#c0c0c0"/>
<rect x="602" y="750" width="1" height="15" fill="#c0c0c0"/>
<rect x="606" y="750" width="1" height="15" fill="#c0c0c0"/>
<rect x="610" y="750" width="1" height="14" fill="#c0c0c0"/>
<rect x="614" y="750" width="1" height="13" fill="#c0c0c0"/>
<rect x="618" y="750" width="1" height="9" fill="#c0c0c0"/>
<rect x="622" y="750" width="1" height="4" fill="#c0c0c0"/>
<rect x="626" y="749" width="1" height="2" fill="#c0c0c0"/>
<rect x="630" y="749" width="1" height="2" fill="#c0c0c0"/>
<rect x="634" y="750" width="1" height="2" fill="#c0c0c0"/>
<rect x="638" y="750" width="1" height="4" fill="#c0c0c0"/>
<rect x="642" y="750" width="1" height="6" fill="#c0c0c0"/>
<rect x="646" y="750" width="1" height="6" fill="#c0c0c0"/>
<rect x="650" y="750" width="1" height="6" fill="#c0c0c0"/>
<rect x="654" y="750" width="1" height="7" fill="#c0c0c0"/>
<rect x="658" y="750" width="1" height="6" fill="#c0c0c0"/>
<rect x="662" y="750" width="1" height="7" fill="#c0c0c0"/>
<rect x="666" y="750" width="1" height="8" fill="#c0c0c0"/>
<rect x="670" y="750" width="1" height="9" fill="#c0c0c0"/>
<rect x="674" y="750" width="1" height="9" fill="#c0c0c0"/>
<rect x="678" y="750" width="1" height="6" fill="#c0c0c0"/>
<rect x="682" y="750" width="1" height="3" fill="#c0c0c0"/>
<rect x="686" y="748" width="1" height="3" fill="#c0c0c0"/>
<rect x="690" y="746" width="1" height="5" fill="#c0c0c0"/>
<rect x="694" y="746" width="1" height="5" fill="#c0c0c0"/>
<rect x="698" y="746" width="1" height="5" fill="#c0c0c0"/>
<rect x="702" y="746" width="1" height="5" fill="#c0c0c0"/>
<rect x="706" y="744" width="1" height="7" fill="#c0c0c0"/>
<rect x="710" y="742" width="1" height="9" fill="#c0c0c0"/>
<rect x="714" y="737" width="1" height="14" fill="#c0c0c0"/>
<rect x="718" y="733" width="1" height="18" fill="#c0c0c0"/>
<rect x="722" y="730" width="1" height="21" fill="#c0c0c0"/>
<rect x="726" y="727" width="1" height="24" fill="#c0c0c0"/>
<rect x="730" y="723" width="1" height="28" fill="#c0c0c0"/>
<rect x="734" y="718" width="1" height="33" fill="#c0c0c0"/>
<rect x="738" y="712" width="1" height="39" fill="#c0c0c0"/>
<rect x="742" y="708" width="1" height="43" fill="#c0c0c0"/>
<rect x="746" y="706" width="1" height="45" fill="#c0c0c0"/>
<rect x="750" y="705" width="1" height="46" fill="#c0c0c0"/>
<rect x="754" y="703" width="1" height="48" fill="#c0c0c0"/>
<rect x="758" y="701" width="1" height="50" fill="#c0c0c0"/>
<rect x="762" y="700" width="1" height="51" fill="#c0c0c0"/>
<rect x="766" y="703" width="1" height="48" fill="#c0c0c0"/>
<rect x="770" y="708" width="1" height="43" fill="#c0c0c0"/>
<rect x="774" y="710" width="1" height="41" fill="#c0c0c0"/>
<rect x="778" y="713" width="1" height="38" fill="#c0c0c0"/>
<rect x="782" y="717" width="1" height="34" fill="#c0c0c0"/>
<rect x="786" y="720" width="1" height="31" fill="#c0c0c0"/>
<rect x="790" y="724" width="1" height="27" fill="#c0c0c0"/>
<rect x="794" y="728" width="1" height="23" fill="#c0c0c0"/>
<rect x="798" y="728" width="1" height="23" fill="#c0c0c0"/>
<rect x="802" y="727" width="1" height="24" fill="#c0c0c0"/>
<rect x="806" y="728" width="1" height="23" fill="#c0c0c0"/>
<rect x="810" y="730" width="1" height="21" fill="#c0c0c0"/>
<rect x="814" y="733" width="1" height="18" fill="#c0c0c0"/>
<rect x="818" y="735" width="1" height="16" fill="#c0c0c0"/>
<rect x="822" y="736" width="1" height="15" fill="#c0c0c0"/>
<rect x="826" y="737" width="1" height="14" fill="#c0c0c0"/>
<rect x="830" y="737" width="1" height="14" fill="#c0c0c0"/>
<rect x="834" y="738" width="1" height="13" fill="#c0c0c0"/>
<rect x="838" y="739" width="1" height="12" fill="#c0c0c0"/>
<rect x="842" y="740" width="1" height="11" fill="#c0c0c0"/>
<rect x="846" y="738" width="1" height="13" fill="#c0c0c0"/>
<rect x="850" y="738" width="1" height="13" fill="#c0c0c0"/>
<rect x="854" y="736" width="1" height="15" fill="#c0c0c0"/>
<rect x="858" y="736" width="1" height="15" fill="#c0c0c0"/>
<rect x="862" y="736" width="1" height="15" fill="#c0c0c0"/>
<rect x="866" y="736" width="1" height="15" fill="#c0c0c0"/>
<rect x="870" y="735" width="1" height="16" fill="#c0c0c0"/>
<rect x="874" y="732" width="1" height="19" fill="#c0c0c0"/>
<rect x="878" y="730" width="1" height="21" fill="#c0c0c0"/>
<rect x="882" y="728" width="1" height="23" fill="#c0c0c0"/>
<rect x="886" y="727" width="1" height="24" fill="#c0c0c0"/>
<rect x="890" y="726" width="1" height="25" fill="#c0c0c0"/>
<rect x="894" y="725" width="1" height="26" fill="#c0c0c0"/>
<rect x="898" y="723" width="1" height="28" fill="#c0c0c0"/>
<rect x="902" y="719" width="1" height="32" fill="#c0c0c0"/>
<rect x="906" y="715" width="1" height="36" fill="#c0c0c0"/>
<rect x="910" y="711" width="1" height="40" fill="#c0c0c0"/>
<rect x="914" y="709" width="1" height="42" fill="#c0c0c0"/>
<rect x="918" y="704" width="1" height="47" fill="#c0c0c0"/>
<rect x="922" y="702" width="1" height="49" fill="#c0c0c0"/>
<rect x="926" y="699" width="1" height="52" fill="#c0c0c0"/>
<rect x="930" y="696" width="1" height="55" fill="#c0c0c0"/>
<rect x="934" y="694" width="1" height="57" fill="#c0c0c0"/>
<rect x="938" y="694" width="1" height="57" fill="#c0c0c0"/>
<rect x="942" y="696" width="1" height="55" fill="#c0c0c0"/>
<rect x="946" y="698" width="1" height="53" fill="#c0c0c0"/>
<rect x="950" y="695" width="1" height="56" fill="#c0c0c0"/>
<rect x="954" y="695" width="1" height="56" fill="#c0c0c0"/>
<rect x="958" y="698" width="1" height="53" fill="#c0c0c0"/>
<rect x="962" y="701" width="1" height="50" fill="#c0c0c0"/>
<rect x="966" y="705" width="1" height="46" fill="#c0c0c0"/>
<rect x="970" y="708" width="1" height="43" fill="#c0c0c0"/>
<rect x="974" y="710" width="1" height="41" fill="#c0c0c0"/>
<rect x="978" y="711" width="1" height="40" fill="#c0c0c0"/>
<rect x="982" y="712" width="1" height="39" fill="#c0c0c0"/>
<rect x="986" y="713" width="1" height="38" fill="#c0c0c0"/>
<rect x="990" y="713" width="1" height="38" fill="#c0c0c0"/>
<rect x="994" y="712" width="1" height="39" fill="#c0c0c0"/>
<rect x="998" y="712" width="1" height="39" fill="#c0c0c0"/>
<rect x="1002" y="714" width="1" height="37" fill="#c0c0c0"/>
<rect x="1006" y="719" width="1" height="32" fill="#c0c0c0"/>
<rect x="1010" y="723" width="1" height="28" fill="#c0c0c0"/>
<rect x="1014" y="725" width="1" height="26" fill="#c0c0c0"/>
<rect x="1018" y="727" width="1" height="24" fill="#c0c0c0"/>
<rect x="1022" y="729" width="1" height="22" fill="#c0c0c0"/>
<rect x="1026" y="730" width="1" height="21" fill="#c0c0c0"/>
<rect x="1030" y="729" width="1" height="22" fill="#c0c0c0"/>
<rect x="1034" y="729" width="1" height="22" fill="#c0c0c0"/>
<rect x="1038" y="727" width="1" height="24" fill="#c0c0c0"/>
<rect x="1042" y="726" width="1" height="25" fill="#c0c0c0"/>
<rect x="1046" y="729" width="1" height="22" fill="#c0c0c0"/>
<rect x="1050" y="731" width="1" height="20" fill="#c0c0c0"/>
<rect x="1054" y="734" width="1" height="17" fill="#c0c0c0"/>
<rect x="1058" y="735" width="1" height="16" fill="#c0c0c0"/>
<rect x="1062" y="738" width="1" height="13" fill="#c0c0c0"/>
<rect x="1066" y="741" width="1" height="10" fill="#c0c0c0"/>
<rect x="1070" y="742" width="1" height="9" fill="#c0c0c0"/>
<rect x="1074" y="741" width="1" height="10" fill="#c0c0c0"/>
<rect x="1078" y="742" width="1" height="9" fill="#c0c0c0"/>
<rect x="1082" y="743" width="1" height="8" fill="#c0c0c0"/>
<rect x="1086" y="742" width="1" height="9" fill="#c0c0c0"/>
<rect x="1090" y="743" width="1" height="8" fill="#c0c0c0"/>
<rect x="1094" y="744" width="1" height="7" fill="#c0c0c0"/>
<rect x="1098" y="745" width="1" height="6" fill="#c0c0c0"/>
<rect x="1102" y="745" width="1" height="6" fill="#c0c0c0"/>
<rect x="1106" y="745" width="1" height="6" fill="#c0c0c0"/>
<rect x="1110" y="749" width="1" height="2" fill="#c0c0c0"/>
<rect x="1114" y="750" width="1" height="4" fill="#c0c0c0"/>
<rect x="1118" y="750" width="1" height="8" fill="#c0c0c0"/>
<rect x="1122" y="750" width="1" height="12" fill="#c0c0c0"/>
<rect x="1126" y="750" width="1" height="16" fill="#c0c0c0"/>
<rect x="1130" y="750" width="1" height="19" fill="#c0c0c0"/>
<rect x="1134" y="750" width="1" height="20" fill="#c0c0c0"/>
<rect x="1138" y="750" width="1" height="18" fill="#c0c0c0"/>
<rect x="1142" y="750" width="1" height="17" fill="#c0c0c0"/>
<rect x="1146" y="750" width="1" height="14" fill="#c0c0c0"/>
<rect x="1150" y="750" width="1" height="14" fill="#c0c0c0"/>
<rect x="1154" y="750" width="1" height="13" fill="#c0c0c0"/>
<rect x="1158" y="750" width="1" height="10" fill="#c0c0c0"/>
<rect x="1162" y="750" width="1" height="8" fill="#c0c0c0"/>
<rect x="1166" y="750" width="1" height="6" fill="#c0c0c0"/>
<rect x="1170" y="750" width="1" height="5" fill="#c0c0c0"/>
<rect x="1174" y="750" width="1" height="3" fill="#c0c0c0"/>
<rect x="1178" y="749" width="1" height="2" fill="#c0c0c0"/>
<rect x="1182" y="748" width="1" height="3" fill="#c0c0c0"/>
<rect x="1186" y="749" width="1" height="2" fill="#c0c0c0"/>
<rect x="1190" y="749" width="1" height="2" fill="#c0c0c0"/>
<rect x="1194" y="750" width="1" height="3" fill="#c0c0c0"/>
<rect x="1198" y="750" width="1" height="4" fill="#c0c0c0"/>
<rect x="1202" y="750" width="1" height="5" fill="#c0c0c0"/>
<rect x="1206" y="750" width="1" height="3" fill="#c0c0c0"/>
<rect x="1210" y="749" width="1" height="2" fill="#c0c0c0"/>
<rect x="1214" y="746" width="1" height="5" fill="#c0c0c0"/>
<rect x="1218" y="745" width="1" height="6" fill="#c0c0c0"/>
<rect x="1222" y="743" width="1" height="8" fill="#c0c0c0"/>
<rect x="1226" y="742" width="1" height="9" fill="#c0c0c0"/>
<rect x="1230" y="742" width="1" height="9" fill="#c0c0c0"/>
<rect x="1234" y="742" width="1" height="9" fill="#c0c0c0"/>
<rect x="1238" y="744" width="1" height="7" fill="#c0c0c0"/>
<rect x="1242" y="749" width="1" height="2" fill="#c0c0c0"/>
<rect x="1246" y="750" width="1" height="5" fill="#c0c0c0"/>
<rect x="1250" y="750" width="1" height="8" fill="#c0c0c0"/>
<rect x="1254" y="750" width="1" height="11" fill="#c0c0c0"/>
<rect x="1258" y="750" width="1" height="10" fill="#c0c0c0"/>
<rect x="1262" y="750" width="1" height="10" fill="#c0c0c0"/>
<rect x="1266" y="750" width="1" height="9" fill="#c0c0c0"/>
<rect x="1595" y="689" width="1" height="1" fill="#000"/>
<rect x="1595" y="750" width="1" height="1" fill="#000"/>
<rect x="1595" y="787" width="1" height="1" fill="#000"/>
</g>
<polyline points="2.5,738.7 6.5,738.7 10.5,738.9 14.5,739.2 18.5,739.7 22.5,740.6 26.5,741.8 30.5,743.3 34.5,745.2 38.5,747.2 42.5,749.5 46.5,751.3 50.5,752.8 54.5,753.8 58.5,754.4 62.5,754.6 66.5,754.5 70.5,754.4 74.5,754.1 78.5,753.9 82.5,753.8 86.5,753.9 90.5,754.2 94.5,754.5 98.5,755.0 102.5,755.3 106.5,755.3 110.5,755.0 114.5,754.5 118.5,753.8 122.5,753.1 126.5,752.3 130.5,751.4 134.5,750.5 138.5,749.6 142.5,748.7 146.5,747.9 150.5,747.1 154.5,746.2 158.5,745.2 162.5,744.3 166.5,743.7 170.5,743.4 174.5,743.3 178.5,743.5 182.5,743.8 186.5,744.3 190.5,744.8 194.5,745.0 198.5,744.8 202.5,744.3 206.5,743.5 210.5,742.4 214.5,741.5 218.5,740.5 222.5,739.5 226.5,739.0 230.5,738.9 234.5,739.3 238.5,740.2 242.5,741.3 246.5,742.5 250.5,743.8 254.5,744.9 258.5,746.0 262.5,747.1 266.5,748.1 270.5,749.0 274.5,749.8 278.5,750.6 282.5,751.5 286.5,752.6 290.5,753.8 294.5,755.2 298.5,756.6 302.5,758.0 306.5,759.2 310.5,760.0 314.5,760.5 318.5,760.8 322.5,760.8 326.5,760.9 330.5,760.9 334.5,760.9 338.5,761.1 342.5,761.4 346.5,762.2 350.5,763.4 354.5,765.0 358.5,766.8 362.5,768.6 366.5,770.3 370.5,772.0 374.5,773.6 378.5,775.0 382.5,776.1 386.5,776.8 390.5,777.0 394.5,776.8 398.5,776.1 402.5,774.8 406.5,772.8 410.5,770.1 414.5,766.6 418.5,762.5 422.5,758.0 426.5,753.3 430.5,747.9 434.5,742.1 438.5,736.0 442.5,730.1 446.5,724.8 450.5,721.2 454.5,719.1 458.5,718.0 462.5,717.7 466.5,719.2 470.5,722.4 474.5,728.0 478.5,735.0 482.5,743.0 486.5,750.5 490.5,757.3 494.5,763.5 498.5,768.6 502.5,772.1 506.5,773.5 510.5,773.1 514.5,771.4 518.5,768.7 522.5,766.1 526.5,763.8 530.5,762.0 534.5,761.2 538.5,761.2 542.5,761.9 546.5,762.8 550.5,763.5 554.5,764.0 558.5,764.0 562.5,763.2 566.5,762.1 570.5,761.1 574.5,760.1 578.5,759.2 582.5,758.6 586.5,758.4 590.5,758.6 594.5,759.0 598.5,759.8 602.5,760.7 606.5,761.4 610.5,761.9 614.5,762.2 618.5,762.1 622.5,761.4 626.5,760.1 630.5,758.7 634.5,757.3 638.5,756.1 642.5,755.1 646.5,754.2 650.5,753.5 654.5,753.4 658.5,753.7 662.5,754.4 666.5,755.4 670.5,756.2 674.5,756.7 678.5,756.7 682.5,756.4 686.5,755.5 690.5,754.3 694.5,753.2 698.5,752.1 702.5,750.9 706.5,749.3 710.5,747.6 714.5,745.6 718.5,743.5 722.5,741.5 726.5,739.4 730.5,736.8 734.5,733.7 738.5,729.9 742.5,726.0 746.5,722.0 750.5,718.4 754.5,715.0 758.5,711.8 762.5,708.9 766.5,706.7 770.5,705.5 774.5,705.4 778.5,705.9 782.5,707.0 786.5,708.7 790.5,711.1 794.5,714.1 798.5,717.2 802.5,719.8 806.5,722.0 810.5,724.3 814.5,726.6 818.5,728.6 822.5,730.3 826.5,731.7 830.5,732.7 834.5,733.8 838.5,735.2 842.5,736.5 846.5,737.4 850.5,737.9 854.5,738.1 858.5,738.2 862.5,738.1 866.5,738.1 870.5,737.7 874.5,736.9 878.5,735.8 882.5,734.7 886.5,733.5 890.5,732.3 894.5,731.1 898.5,729.7 902.5,727.8 906.5,725.5 910.5,723.3 914.5,720.9 918.5,718.3 922.5,715.5 926.5,712.4 930.5,709.2 934.5,706.0 938.5,703.2 942.5,701.1 946.5,699.6 950.5,698.0 954.5,696.9 958.5,696.6 962.5,696.9 966.5,697.9 970.5,699.5 974.5,701.3 978.5,703.0 982.5,704.6 986.5,706.6 990.5,708.6 994.5,710.1 998.5,711.3 1002.5,712.3 1006.5,713.5 1010.5,714.9 1014.5,716.4 1018.5,718.1 1022.5,719.8 1026.5,721.8 1030.5,723.7 1034.5,725.5 1038.5,726.9 1042.5,727.7 1046.5,728.3 1050.5,729.0 1054.5,729.8 1058.5,730.5 1062.5,731.3 1066.5,732.5 1070.5,734.0 1074.5,735.6 1078.5,737.5 1082.5,739.1 1086.5,740.3 1090.5,741.3 1094.5,742.3 1098.5,743.1 1102.5,743.5 1106.5,743.8 1110.5,744.7 1114.5,745.9 1118.5,747.4 1122.5,749.5 1126.5,751.9 1130.5,754.6 1134.5,757.2 1138.5,759.7 1142.5,762.0 1146.5,763.6 1150.5,764.7 1154.5,765.3 1158.5,765.1 1162.5,764.2 1166.5,762.9 1170.5,761.3 1174.5,759.6 1178.5,757.7 1182.5,756.0 1186.5,754.5 1190.5,753.1 1194.5,752.2 1198.5,751.8 1202.5,751.6 1206.5,751.3 1210.5,751.1 1214.5,750.7 1218.5,750.4 1222.5,749.7 1226.5,748.9 1230.5,747.8 1234.5,746.5 1238.5,745.5 1242.5,745.2 1246.5,745.7 1250.5,747.0 1254.5,748.7 1258.5,750.5 1262.5,752.5 1266.5,754.3" fill="none" stroke="#ff0000" stroke-width="1" stroke-dasharray="3 3" shape-rendering="crispEdges"/>
<text x="6.2" y="700" font-size="10" fill="#000" textLength="154" lengthAdjust="spacingAndGlyphs" stroke="#000" stroke-width="0.25">MACD(12,26,9) -0.001941 -0.000878</text>
<text x="1598" y="698" font-size="10" fill="#000" textLength="38" lengthAdjust="spacingAndGlyphs" stroke="#000" stroke-width="0.25">0.014556</text>
<text x="1598" y="754" font-size="10" fill="#000" textLength="18" lengthAdjust="spacingAndGlyphs" stroke="#000" stroke-width="0.25">0.00</text>
<text x="1598" y="785" font-size="10" fill="#000" textLength="41" lengthAdjust="spacingAndGlyphs" stroke="#000" stroke-width="0.25">-0.009001</text>
<g shape-rendering="crispEdges">
<rect x="2" y="789" width="1" height="3" fill="#000"/>
<rect x="66" y="789" width="1" height="3" fill="#000"/>
<rect x="130" y="789" width="1" height="3" fill="#000"/>
<rect x="194" y="789" width="1" height="3" fill="#000"/>
<rect x="258" y="789" width="1" height="3" fill="#000"/>
<rect x="322" y="789" width="1" height="3" fill="#000"/>
<rect x="386" y="789" width="1" height="3" fill="#000"/>
<rect x="450" y="789" width="1" height="3" fill="#000"/>
<rect x="514" y="789" width="1" height="3" fill="#000"/>
<rect x="578" y="789" width="1" height="3" fill="#000"/>
<rect x="642" y="789" width="1" height="3" fill="#000"/>
<rect x="706" y="789" width="1" height="3" fill="#000"/>
<rect x="770" y="789" width="1" height="3" fill="#000"/>
<rect x="834" y="789" width="1" height="3" fill="#000"/>
<rect x="898" y="789" width="1" height="3" fill="#000"/>
<rect x="962" y="789" width="1" height="3" fill="#000"/>
<rect x="1026" y="789" width="1" height="3" fill="#000"/>
<rect x="1090" y="789" width="1" height="3" fill="#000"/>
<rect x="1154" y="789" width="1" height="3" fill="#000"/>
<rect x="1218" y="789" width="1" height="3" fill="#000"/>
</g>
<text x="0.7" y="801" font-size="10" fill="#000" textLength="48.8" lengthAdjust="spacingAndGlyphs" stroke="#000" stroke-width="0.25">2 Nov 2019</text>
<text x="64.7" y="801" font-size="10" fill="#000" textLength="54.2" lengthAdjust="spacingAndGlyphs" stroke="#000" stroke-width="0.25">21 Nov 2019</text>
<text x="128.7" y="801" font-size="10" fill="#000" textLength="54.2" lengthAdjust="spacingAndGlyphs" stroke="#000" stroke-width="0.25">10 Dec 2019</text>
<text x="192.7" y="801" font-size="10" fill="#000" textLength="54.2" lengthAdjust="spacingAndGlyphs" stroke="#000" stroke-width="0.25">28 Dec 2019</text>
<text x="256.7" y="801" font-size="10" fill="#000" textLength="52.6" lengthAdjust="spacingAndGlyphs" stroke="#000" stroke-width="0.25">16 Jan 2020</text>
<text x="320.7" y="801" font-size="10" fill="#000" textLength="48.3" lengthAdjust="spacingAndGlyphs" stroke="#000" stroke-width="0.25">4 Feb 2020</text>
<text x="384.7" y="801" font-size="10" fill="#000" textLength="53.6" lengthAdjust="spacingAndGlyphs" stroke="#000" stroke-width="0.25">22 Feb 2020</text>
<text x="448.7" y="801" font-size="10" fill="#000" textLength="53.6" lengthAdjust="spacingAndGlyphs" stroke="#000" stroke-width="0.25">12 Mar 2020</text>
<text x="512.7" y="801" font-size="10" fill="#000" textLength="53.6" lengthAdjust="spacingAndGlyphs" stroke="#000" stroke-width="0.25">31 Mar 2020</text>
<text x="576.7" y="801" font-size="10" fill="#000" textLength="51.5" lengthAdjust="spacingAndGlyphs" stroke="#000" stroke-width="0.25">18 Apr 2020</text>
<text x="640.7" y="801" font-size="10" fill="#000" textLength="49.9" lengthAdjust="spacingAndGlyphs" stroke="#000" stroke-width="0.25">7 May 2020</text>
<text x="704.7" y="801" font-size="10" fill="#000" textLength="55.2" lengthAdjust="spacingAndGlyphs" stroke="#000" stroke-width="0.25">26 May 2020</text>
<text x="768.7" y="801" font-size="10" fill="#000" textLength="52.6" lengthAdjust="spacingAndGlyphs" stroke="#000" stroke-width="0.25">13 Jun 2020</text>
<text x="832.7" y="801" font-size="10" fill="#000" textLength="44.1" lengthAdjust="spacingAndGlyphs" stroke="#000" stroke-width="0.25">2 Jul 2020</text>
<text x="896.7" y="801" font-size="10" fill="#000" textLength="49.4" lengthAdjust="spacingAndGlyphs" stroke="#000" stroke-width="0.25">21 Jul 2020</text>
<text x="960.7" y="801" font-size="10" fill="#000" textLength="48.3" lengthAdjust="spacingAndGlyphs" stroke="#000" stroke-width="0.25">8 Aug 2020</text>
<text x="1024.7" y="801" font-size="10" fill="#000" textLength="53.6" lengthAdjust="spacingAndGlyphs" stroke="#000" stroke-width="0.25">27 Aug 2020</text>
<text x="1088.7" y="801" font-size="10" fill="#000" textLength="54.2" lengthAdjust="spacingAndGlyphs" stroke="#000" stroke-width="0.25">15 Sep 2020</text>
<text x="1152.7" y="801" font-size="10" fill="#000" textLength="46.7" lengthAdjust="spacingAndGlyphs" stroke="#000" stroke-width="0.25">3 Oct 2020</text>
<text x="1216.7" y="801" font-size="10" fill="#000" textLength="52.0" lengthAdjust="spacingAndGlyphs" stroke="#000" stroke-width="0.25">22 Oct 2020</text>
<g shape-rendering="crispEdges">
<rect x="0" y="809" width="1638" height="1" fill="#f4f4f4"/>
<rect x="0" y="810" width="1638" height="1" fill="#e0e0e0"/>
<rect x="0" y="811" width="1638" height="20" fill="#f0f0f0"/>
<rect x="0" y="831" width="1638" height="2" fill="#fafafa"/>
<rect x="0" y="811" width="1638" height="1" fill="#000"/>
<rect x="4" y="811" width="102" height="19" fill="#fff"/>
<rect x="3" y="811" width="1" height="19" fill="#000"/>
<rect x="106" y="811" width="1" height="19" fill="#000"/>
<rect x="3" y="829" width="104" height="1" fill="#000"/>
<rect x="3" y="830" width="104" height="1" fill="#707070"/>
<rect x="207" y="814" width="1" height="14" fill="#707070"/>
<rect x="311" y="814" width="1" height="14" fill="#707070"/>
<rect x="415" y="814" width="1" height="14" fill="#707070"/>
<rect x="519" y="814" width="1" height="14" fill="#707070"/>
<rect x="623" y="814" width="1" height="14" fill="#707070"/>
<rect x="715" y="814" width="1" height="14" fill="#707070"/>
<rect x="807" y="814" width="1" height="14" fill="#707070"/>
<rect x="879" y="814" width="1" height="14" fill="#707070"/>
<rect x="959" y="814" width="1" height="14" fill="#707070"/>
<rect x="1039" y="814" width="1" height="14" fill="#707070"/>
<rect x="1119" y="814" width="1" height="14" fill="#707070"/>
<rect x="1195" y="814" width="1" height="14" fill="#707070"/>
<rect x="1267" y="814" width="1" height="14" fill="#707070"/>
<rect x="1351" y="814" width="1" height="14" fill="#707070"/>
<rect x="1431" y="814" width="1" height="14" fill="#707070"/>
<rect x="1531" y="814" width="1" height="14" fill="#707070"/>
<rect x="1603" y="814" width="1" height="14" fill="#707070"/>
</g>
<text x="15.2" y="826" font-size="12.5" fill="#000" textLength="80.5" lengthAdjust="spacingAndGlyphs" stroke="#000" stroke-width="0.3">EURUSD,Daily</text>
<text x="117.5" y="826" font-size="12.5" fill="#6a6a6a" textLength="79.0" lengthAdjust="spacingAndGlyphs" stroke="#6a6a6a" stroke-width="0.15">USDCHF,Daily</text>
<text x="218.1" y="826" font-size="12.5" fill="#6a6a6a" textLength="82.6" lengthAdjust="spacingAndGlyphs" stroke="#6a6a6a" stroke-width="0.15">AUDUSD,Daily</text>
<text x="322.1" y="826" font-size="12.5" fill="#6a6a6a" textLength="82.1" lengthAdjust="spacingAndGlyphs" stroke="#6a6a6a" stroke-width="0.15">USDCAD,Daily</text>
<text x="425.4" y="826" font-size="12.5" fill="#6a6a6a" textLength="83.1" lengthAdjust="spacingAndGlyphs" stroke="#6a6a6a" stroke-width="0.15">USDCNH,Daily</text>
<text x="531.4" y="826" font-size="12.5" fill="#6a6a6a" textLength="80.5" lengthAdjust="spacingAndGlyphs" stroke="#6a6a6a" stroke-width="0.15">EURUSD,Daily</text>
<text x="635.1" y="826" font-size="12.5" fill="#6a6a6a" textLength="68.4" lengthAdjust="spacingAndGlyphs" stroke="#6a6a6a" stroke-width="0.15">GBPUSD,H4</text>
<text x="726.1" y="826" font-size="12.5" fill="#6a6a6a" textLength="69.3" lengthAdjust="spacingAndGlyphs" stroke="#6a6a6a" stroke-width="0.15">XAUUSD,H1</text>
<text x="818.3" y="826" font-size="12.5" fill="#6a6a6a" textLength="49.4" lengthAdjust="spacingAndGlyphs" stroke="#6a6a6a" stroke-width="0.15">HK50,H1</text>
<text x="890.3" y="826" font-size="12.5" fill="#6a6a6a" textLength="56.9" lengthAdjust="spacingAndGlyphs" stroke="#6a6a6a" stroke-width="0.15">UK100,H1</text>
<text x="970.3" y="826" font-size="12.5" fill="#6a6a6a" textLength="57.0" lengthAdjust="spacingAndGlyphs" stroke="#6a6a6a" stroke-width="0.15">UK100,H1</text>
<text x="1050.0" y="826" font-size="12.5" fill="#6a6a6a" textLength="57.3" lengthAdjust="spacingAndGlyphs" stroke="#6a6a6a" stroke-width="0.15">GER30,H1</text>
<text x="1129.3" y="826" font-size="12.5" fill="#6a6a6a" textLength="54.6" lengthAdjust="spacingAndGlyphs" stroke="#6a6a6a" stroke-width="0.15">FRA40,H1</text>
<text x="1205.1" y="826" font-size="12.5" fill="#6a6a6a" textLength="51.1" lengthAdjust="spacingAndGlyphs" stroke="#6a6a6a" stroke-width="0.15">USOil,H4</text>
<text x="1277.1" y="826" font-size="12.5" fill="#6a6a6a" textLength="62.6" lengthAdjust="spacingAndGlyphs" stroke="#6a6a6a" stroke-width="0.15">USDJPY,H1</text>
<text x="1361.4" y="826" font-size="12.5" fill="#6a6a6a" textLength="59.0" lengthAdjust="spacingAndGlyphs" stroke="#6a6a6a" stroke-width="0.15">DJ30,Daily</text>
<text x="1441.5" y="826" font-size="12.5" fill="#6a6a6a" textLength="78.7" lengthAdjust="spacingAndGlyphs" stroke="#6a6a6a" stroke-width="0.15">CHINA300,H1</text>
<text x="1541.1" y="826" font-size="12.5" fill="#6a6a6a" textLength="51.2" lengthAdjust="spacingAndGlyphs" stroke="#6a6a6a" stroke-width="0.15">USOil,H1</text>
<path d="M1613.5 816.5 L1613.5 823.5 L1610 820 Z" fill="#a0a0a0"/>
<path d="M1629 815.5 L1629 824.5 L1633.5 820 Z" fill="#000"/>
</svg>
</body></html>
